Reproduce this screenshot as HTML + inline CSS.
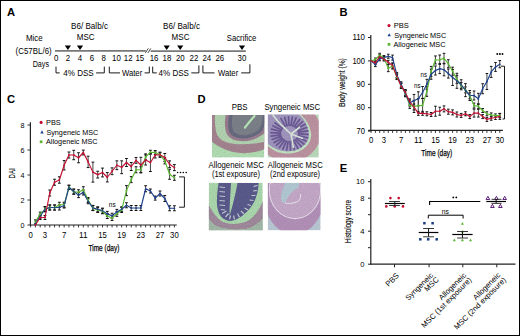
<!DOCTYPE html>
<html><head><meta charset="utf-8"><style>
html,body{margin:0;padding:0;background:#fff;}
svg{display:block;font-family:"Liberation Sans", sans-serif;}
</style></head><body>
<svg width="520" height="336" viewBox="0 0 520 336" font-family='"Liberation Sans", sans-serif'>
<rect x="0" y="0" width="520" height="336" fill="#fff"/>
<text x="7.00" y="15.80" font-size="11.65" textLength="8.09" lengthAdjust="spacingAndGlyphs" font-weight="bold">A</text>
<text x="339.50" y="15.60" font-size="11.65" textLength="8.09" lengthAdjust="spacingAndGlyphs" font-weight="bold">B</text>
<text x="7.00" y="103.20" font-size="11.65" textLength="8.09" lengthAdjust="spacingAndGlyphs" font-weight="bold">C</text>
<text x="197.60" y="103.30" font-size="11.65" textLength="8.09" lengthAdjust="spacingAndGlyphs" font-weight="bold">D</text>
<text x="339.80" y="172.20" font-size="11.65" textLength="7.47" lengthAdjust="spacingAndGlyphs" font-weight="bold">E</text>
<text x="26.00" y="40.80" font-size="8.69" textLength="16.70" lengthAdjust="spacingAndGlyphs">Mice</text>
<text x="15.60" y="53.80" font-size="8.69" textLength="36.10" lengthAdjust="spacingAndGlyphs">(C57BL/6)</text>
<text x="32.70" y="67.20" font-size="8.69" textLength="16.30" lengthAdjust="spacingAndGlyphs">Days</text>
<text x="71.00" y="29.00" font-size="8.69" textLength="37.00" lengthAdjust="spacingAndGlyphs">B6/ Balb/c</text>
<text x="76.80" y="40.30" font-size="8.69" textLength="17.80" lengthAdjust="spacingAndGlyphs">MSC</text>
<text x="163.00" y="29.00" font-size="8.69" textLength="37.00" lengthAdjust="spacingAndGlyphs">B6/ Balb/c</text>
<text x="171.60" y="40.30" font-size="8.69" textLength="17.90" lengthAdjust="spacingAndGlyphs">MSC</text>
<text x="226.80" y="41.00" font-size="8.69" textLength="29.60" lengthAdjust="spacingAndGlyphs">Sacrifice</text>
<line x1="55.00" y1="50.90" x2="145.80" y2="50.90" stroke="#787878" stroke-width="1.8"/>
<line x1="150.60" y1="51.20" x2="245.80" y2="51.20" stroke="#787878" stroke-width="1.8"/>
<path d="M145.4,52.9 L148.3,48.4 M147.9,52.9 L150.8,48.4" stroke="#333" stroke-width="0.9" fill="none"/>
<path d="M64.80,45.6 L71.00,45.6 L67.90,49.9 Z" fill="#000"/>
<path d="M76.90,45.6 L83.10,45.6 L80.00,49.9 Z" fill="#000"/>
<path d="M163.60,45.6 L169.80,45.6 L166.70,49.9 Z" fill="#000"/>
<path d="M177.10,45.6 L183.30,45.6 L180.20,49.9 Z" fill="#000"/>
<path d="M238.90,45.6 L245.10,45.6 L242.00,49.9 Z" fill="#000"/>
<text x="56.25" y="60.80" font-size="8.69" text-anchor="middle" textLength="4.39" lengthAdjust="spacingAndGlyphs">0</text>
<text x="67.90" y="60.80" font-size="8.69" text-anchor="middle" textLength="4.39" lengthAdjust="spacingAndGlyphs">2</text>
<text x="80.00" y="60.80" font-size="8.69" text-anchor="middle" textLength="4.39" lengthAdjust="spacingAndGlyphs">4</text>
<text x="92.00" y="60.80" font-size="8.69" text-anchor="middle" textLength="4.39" lengthAdjust="spacingAndGlyphs">6</text>
<text x="103.60" y="60.80" font-size="8.69" text-anchor="middle" textLength="4.39" lengthAdjust="spacingAndGlyphs">8</text>
<text x="116.50" y="60.80" font-size="8.69" text-anchor="middle" textLength="8.79" lengthAdjust="spacingAndGlyphs">10</text>
<text x="128.20" y="60.80" font-size="8.69" text-anchor="middle" textLength="8.79" lengthAdjust="spacingAndGlyphs">12</text>
<text x="139.80" y="60.80" font-size="8.69" text-anchor="middle" textLength="8.79" lengthAdjust="spacingAndGlyphs">15</text>
<text x="154.10" y="60.80" font-size="8.69" text-anchor="middle" textLength="8.79" lengthAdjust="spacingAndGlyphs">16</text>
<text x="166.90" y="60.80" font-size="8.69" text-anchor="middle" textLength="8.79" lengthAdjust="spacingAndGlyphs">18</text>
<text x="180.30" y="60.80" font-size="8.69" text-anchor="middle" textLength="8.79" lengthAdjust="spacingAndGlyphs">20</text>
<text x="193.90" y="60.80" font-size="8.69" text-anchor="middle" textLength="8.79" lengthAdjust="spacingAndGlyphs">22</text>
<text x="206.80" y="60.80" font-size="8.69" text-anchor="middle" textLength="8.79" lengthAdjust="spacingAndGlyphs">24</text>
<text x="219.80" y="60.80" font-size="8.69" text-anchor="middle" textLength="8.79" lengthAdjust="spacingAndGlyphs">26</text>
<text x="242.00" y="60.80" font-size="8.69" text-anchor="middle" textLength="8.79" lengthAdjust="spacingAndGlyphs">30</text>
<text x="63.30" y="75.60" font-size="8.69" textLength="30.40" lengthAdjust="spacingAndGlyphs">4% DSS</text>
<path d="M56.0,66.6 V72.9 H59.7" stroke="#000" stroke-width="0.9" fill="none"/>
<path d="M96.1,72.9 H104.3 V66.6" stroke="#000" stroke-width="0.9" fill="none"/>
<text x="122.00" y="76.00" font-size="8.69" textLength="20.20" lengthAdjust="spacingAndGlyphs">Water</text>
<path d="M109.3,66.6 V72.9 H120.0" stroke="#000" stroke-width="0.9" fill="none"/>
<path d="M144.6,72.9 H149.3 V66.6" stroke="#000" stroke-width="0.9" fill="none"/>
<text x="158.60" y="75.60" font-size="8.69" textLength="30.40" lengthAdjust="spacingAndGlyphs">4% DSS</text>
<path d="M152.7,66.6 V72.9 H156.8" stroke="#000" stroke-width="0.9" fill="none"/>
<path d="M191.3,72.9 H198.9 V65.4" stroke="#000" stroke-width="0.9" fill="none"/>
<text x="218.00" y="76.00" font-size="8.69" textLength="20.20" lengthAdjust="spacingAndGlyphs">Water</text>
<path d="M202.9,65.4 V72.9 H214.5" stroke="#000" stroke-width="0.9" fill="none"/>
<path d="M241.2,72.9 H249.9 V64.3" stroke="#000" stroke-width="0.9" fill="none"/>
<line x1="370.80" y1="35.00" x2="370.80" y2="131.10" stroke="#222" stroke-width="1.2"/>
<line x1="368.20" y1="130.40" x2="502.90" y2="130.40" stroke="#222" stroke-width="1.2"/>
<line x1="368.00" y1="37.50" x2="370.80" y2="37.50" stroke="#222" stroke-width="1.0"/>
<text x="365.00" y="40.10" font-size="8.14" text-anchor="end" textLength="12.60" lengthAdjust="spacingAndGlyphs">110</text>
<line x1="368.00" y1="60.90" x2="370.80" y2="60.90" stroke="#222" stroke-width="1.0"/>
<text x="365.00" y="63.50" font-size="8.14" text-anchor="end" textLength="12.60" lengthAdjust="spacingAndGlyphs">100</text>
<line x1="368.00" y1="84.30" x2="370.80" y2="84.30" stroke="#222" stroke-width="1.0"/>
<text x="365.00" y="86.90" font-size="8.14" text-anchor="end" textLength="8.40" lengthAdjust="spacingAndGlyphs">90</text>
<line x1="368.00" y1="107.70" x2="370.80" y2="107.70" stroke="#222" stroke-width="1.0"/>
<text x="365.00" y="110.30" font-size="8.14" text-anchor="end" textLength="8.40" lengthAdjust="spacingAndGlyphs">80</text>
<line x1="368.00" y1="131.10" x2="370.80" y2="131.10" stroke="#222" stroke-width="1.0"/>
<text x="365.00" y="133.70" font-size="8.14" text-anchor="end" textLength="8.40" lengthAdjust="spacingAndGlyphs">70</text>
<line x1="371.10" y1="130.40" x2="371.10" y2="132.90" stroke="#222" stroke-width="0.9"/>
<line x1="375.39" y1="130.40" x2="375.39" y2="132.90" stroke="#222" stroke-width="0.9"/>
<line x1="379.68" y1="130.40" x2="379.68" y2="132.90" stroke="#222" stroke-width="0.9"/>
<line x1="383.97" y1="130.40" x2="383.97" y2="132.90" stroke="#222" stroke-width="0.9"/>
<line x1="388.26" y1="130.40" x2="388.26" y2="132.90" stroke="#222" stroke-width="0.9"/>
<line x1="392.55" y1="130.40" x2="392.55" y2="132.90" stroke="#222" stroke-width="0.9"/>
<line x1="396.84" y1="130.40" x2="396.84" y2="132.90" stroke="#222" stroke-width="0.9"/>
<line x1="401.13" y1="130.40" x2="401.13" y2="132.90" stroke="#222" stroke-width="0.9"/>
<line x1="405.42" y1="130.40" x2="405.42" y2="132.90" stroke="#222" stroke-width="0.9"/>
<line x1="409.71" y1="130.40" x2="409.71" y2="132.90" stroke="#222" stroke-width="0.9"/>
<line x1="414.00" y1="130.40" x2="414.00" y2="132.90" stroke="#222" stroke-width="0.9"/>
<line x1="418.29" y1="130.40" x2="418.29" y2="132.90" stroke="#222" stroke-width="0.9"/>
<line x1="422.58" y1="130.40" x2="422.58" y2="132.90" stroke="#222" stroke-width="0.9"/>
<line x1="426.87" y1="130.40" x2="426.87" y2="132.90" stroke="#222" stroke-width="0.9"/>
<line x1="431.16" y1="130.40" x2="431.16" y2="132.90" stroke="#222" stroke-width="0.9"/>
<line x1="435.45" y1="130.40" x2="435.45" y2="132.90" stroke="#222" stroke-width="0.9"/>
<line x1="439.74" y1="130.40" x2="439.74" y2="132.90" stroke="#222" stroke-width="0.9"/>
<line x1="444.03" y1="130.40" x2="444.03" y2="132.90" stroke="#222" stroke-width="0.9"/>
<line x1="448.32" y1="130.40" x2="448.32" y2="132.90" stroke="#222" stroke-width="0.9"/>
<line x1="452.61" y1="130.40" x2="452.61" y2="132.90" stroke="#222" stroke-width="0.9"/>
<line x1="456.90" y1="130.40" x2="456.90" y2="132.90" stroke="#222" stroke-width="0.9"/>
<line x1="461.19" y1="130.40" x2="461.19" y2="132.90" stroke="#222" stroke-width="0.9"/>
<line x1="465.48" y1="130.40" x2="465.48" y2="132.90" stroke="#222" stroke-width="0.9"/>
<line x1="469.77" y1="130.40" x2="469.77" y2="132.90" stroke="#222" stroke-width="0.9"/>
<line x1="474.06" y1="130.40" x2="474.06" y2="132.90" stroke="#222" stroke-width="0.9"/>
<line x1="478.35" y1="130.40" x2="478.35" y2="132.90" stroke="#222" stroke-width="0.9"/>
<line x1="482.64" y1="130.40" x2="482.64" y2="132.90" stroke="#222" stroke-width="0.9"/>
<line x1="486.93" y1="130.40" x2="486.93" y2="132.90" stroke="#222" stroke-width="0.9"/>
<line x1="491.22" y1="130.40" x2="491.22" y2="132.90" stroke="#222" stroke-width="0.9"/>
<line x1="495.51" y1="130.40" x2="495.51" y2="132.90" stroke="#222" stroke-width="0.9"/>
<line x1="499.80" y1="130.40" x2="499.80" y2="132.90" stroke="#222" stroke-width="0.9"/>
<text x="371.10" y="143.00" font-size="8.47" text-anchor="middle" textLength="4.30" lengthAdjust="spacingAndGlyphs">0</text>
<text x="383.97" y="143.00" font-size="8.47" text-anchor="middle" textLength="4.30" lengthAdjust="spacingAndGlyphs">3</text>
<text x="401.13" y="143.00" font-size="8.47" text-anchor="middle" textLength="4.30" lengthAdjust="spacingAndGlyphs">7</text>
<text x="418.29" y="143.00" font-size="8.47" text-anchor="middle" textLength="8.60" lengthAdjust="spacingAndGlyphs">11</text>
<text x="435.45" y="143.00" font-size="8.47" text-anchor="middle" textLength="8.60" lengthAdjust="spacingAndGlyphs">15</text>
<text x="452.61" y="143.00" font-size="8.47" text-anchor="middle" textLength="8.60" lengthAdjust="spacingAndGlyphs">19</text>
<text x="469.77" y="143.00" font-size="8.47" text-anchor="middle" textLength="8.60" lengthAdjust="spacingAndGlyphs">23</text>
<text x="486.93" y="143.00" font-size="8.47" text-anchor="middle" textLength="8.60" lengthAdjust="spacingAndGlyphs">27</text>
<text x="499.80" y="143.00" font-size="8.47" text-anchor="middle" textLength="8.60" lengthAdjust="spacingAndGlyphs">30</text>
<text x="421.30" y="155.80" font-size="9.70" textLength="31.00" lengthAdjust="spacingAndGlyphs" stroke="#000" stroke-width="0.25">Time (day)</text>
<text transform="translate(344.7,82.6) rotate(-90)" font-size="9.7" text-anchor="middle" textLength="48.9" lengthAdjust="spacingAndGlyphs" stroke="#000" stroke-width="0.12">Body weight (%)</text>
<circle cx="389.00" cy="25.60" r="1.55" fill="#c20f30"/>
<text x="393.80" y="28.20" font-size="8.03" textLength="15.10" lengthAdjust="spacingAndGlyphs">PBS</text>
<path d="M389.20,33.14 L390.90,36.24 L387.50,36.24 Z" fill="#1d408c"/>
<text x="394.20" y="37.60" font-size="8.03" textLength="52.00" lengthAdjust="spacingAndGlyphs">Syngeneic MSC</text>
<rect x="387.65" y="43.05" width="2.70" height="2.70" fill="#5cb531"/>
<text x="393.50" y="47.00" font-size="8.03" textLength="52.00" lengthAdjust="spacingAndGlyphs">Allogeneic MSC</text>
<path d="M375.39,58.00 V61.00" stroke="#3a3a3a" stroke-width="0.9500000000000001" fill="none"/>
<path d="M374.09,58.00 H376.69 M374.09,61.00 H376.69" stroke="#111" stroke-width="1.0" fill="none"/>
<path d="M379.68,53.28 V57.28" stroke="#3a3a3a" stroke-width="0.9500000000000001" fill="none"/>
<path d="M378.38,53.28 H380.98 M378.38,57.28 H380.98" stroke="#111" stroke-width="1.0" fill="none"/>
<path d="M383.97,56.09 V60.09" stroke="#3a3a3a" stroke-width="0.9500000000000001" fill="none"/>
<path d="M382.67,56.09 H385.27 M382.67,60.09 H385.27" stroke="#111" stroke-width="1.0" fill="none"/>
<path d="M388.26,64.65 V71.65" stroke="#3a3a3a" stroke-width="0.9500000000000001" fill="none"/>
<path d="M386.96,64.65 H389.56 M386.96,71.65 H389.56" stroke="#111" stroke-width="1.0" fill="none"/>
<path d="M392.55,63.05 V69.05" stroke="#3a3a3a" stroke-width="0.9500000000000001" fill="none"/>
<path d="M391.25,63.05 H393.85 M391.25,69.05 H393.85" stroke="#111" stroke-width="1.0" fill="none"/>
<path d="M396.84,74.55 V79.55" stroke="#3a3a3a" stroke-width="0.9500000000000001" fill="none"/>
<path d="M395.54,74.55 H398.14 M395.54,79.55 H398.14" stroke="#111" stroke-width="1.0" fill="none"/>
<path d="M401.13,82.97 V87.97" stroke="#3a3a3a" stroke-width="0.9500000000000001" fill="none"/>
<path d="M399.83,82.97 H402.43 M399.83,87.97 H402.43" stroke="#111" stroke-width="1.0" fill="none"/>
<path d="M405.42,90.66 V96.66" stroke="#3a3a3a" stroke-width="0.9500000000000001" fill="none"/>
<path d="M404.12,90.66 H406.72 M404.12,96.66 H406.72" stroke="#111" stroke-width="1.0" fill="none"/>
<path d="M409.71,102.36 V108.36" stroke="#3a3a3a" stroke-width="0.9500000000000001" fill="none"/>
<path d="M408.41,102.36 H411.01 M408.41,108.36 H411.01" stroke="#111" stroke-width="1.0" fill="none"/>
<path d="M414.00,100.53 V112.53" stroke="#3a3a3a" stroke-width="0.9500000000000001" fill="none"/>
<path d="M412.70,100.53 H415.30 M412.70,112.53 H415.30" stroke="#111" stroke-width="1.0" fill="none"/>
<path d="M418.29,98.59 V112.59" stroke="#3a3a3a" stroke-width="0.9500000000000001" fill="none"/>
<path d="M416.99,98.59 H419.59 M416.99,112.59 H419.59" stroke="#111" stroke-width="1.0" fill="none"/>
<path d="M422.58,98.36 V112.36" stroke="#3a3a3a" stroke-width="0.9500000000000001" fill="none"/>
<path d="M421.28,98.36 H423.88 M421.28,112.36 H423.88" stroke="#111" stroke-width="1.0" fill="none"/>
<path d="M426.87,86.32 V96.32" stroke="#3a3a3a" stroke-width="0.9500000000000001" fill="none"/>
<path d="M425.57,86.32 H428.17 M425.57,96.32 H428.17" stroke="#111" stroke-width="1.0" fill="none"/>
<path d="M431.16,66.43 V76.43" stroke="#3a3a3a" stroke-width="0.9500000000000001" fill="none"/>
<path d="M429.86,66.43 H432.46 M429.86,76.43 H432.46" stroke="#111" stroke-width="1.0" fill="none"/>
<path d="M435.45,55.96 V63.96" stroke="#3a3a3a" stroke-width="0.9500000000000001" fill="none"/>
<path d="M434.15,55.96 H436.75 M434.15,63.96 H436.75" stroke="#111" stroke-width="1.0" fill="none"/>
<path d="M439.74,55.03 V64.43" stroke="#3a3a3a" stroke-width="0.9500000000000001" fill="none"/>
<path d="M438.44,55.03 H441.04 M438.44,64.43 H441.04" stroke="#111" stroke-width="1.0" fill="none"/>
<path d="M444.03,53.33 V63.33" stroke="#3a3a3a" stroke-width="0.9500000000000001" fill="none"/>
<path d="M442.73,53.33 H445.33 M442.73,63.33 H445.33" stroke="#111" stroke-width="1.0" fill="none"/>
<path d="M448.32,59.71 V67.71" stroke="#3a3a3a" stroke-width="0.9500000000000001" fill="none"/>
<path d="M447.02,59.71 H449.62 M447.02,67.71 H449.62" stroke="#111" stroke-width="1.0" fill="none"/>
<path d="M452.61,67.20 V75.20" stroke="#3a3a3a" stroke-width="0.9500000000000001" fill="none"/>
<path d="M451.31,67.20 H453.91 M451.31,75.20 H453.91" stroke="#111" stroke-width="1.0" fill="none"/>
<path d="M456.90,75.39 V83.39" stroke="#3a3a3a" stroke-width="0.9500000000000001" fill="none"/>
<path d="M455.60,75.39 H458.20 M455.60,83.39 H458.20" stroke="#111" stroke-width="1.0" fill="none"/>
<path d="M461.19,82.47 V88.47" stroke="#3a3a3a" stroke-width="0.9500000000000001" fill="none"/>
<path d="M459.89,82.47 H462.49 M459.89,88.47 H462.49" stroke="#111" stroke-width="1.0" fill="none"/>
<path d="M465.48,86.92 V92.92" stroke="#3a3a3a" stroke-width="0.9500000000000001" fill="none"/>
<path d="M464.18,86.92 H466.78 M464.18,92.92 H466.78" stroke="#111" stroke-width="1.0" fill="none"/>
<path d="M469.77,92.77 V98.77" stroke="#3a3a3a" stroke-width="0.9500000000000001" fill="none"/>
<path d="M468.47,92.77 H471.07 M468.47,98.77 H471.07" stroke="#111" stroke-width="1.0" fill="none"/>
<path d="M474.06,103.09 V108.09" stroke="#3a3a3a" stroke-width="0.9500000000000001" fill="none"/>
<path d="M472.76,103.09 H475.36 M472.76,108.09 H475.36" stroke="#111" stroke-width="1.0" fill="none"/>
<path d="M478.35,103.80 V108.80" stroke="#3a3a3a" stroke-width="0.9500000000000001" fill="none"/>
<path d="M477.05,103.80 H479.65 M477.05,108.80 H479.65" stroke="#111" stroke-width="1.0" fill="none"/>
<path d="M482.64,108.51 V112.51" stroke="#3a3a3a" stroke-width="0.9500000000000001" fill="none"/>
<path d="M481.34,108.51 H483.94 M481.34,112.51 H483.94" stroke="#111" stroke-width="1.0" fill="none"/>
<path d="M486.93,111.78 V115.78" stroke="#3a3a3a" stroke-width="0.9500000000000001" fill="none"/>
<path d="M485.63,111.78 H488.23 M485.63,115.78 H488.23" stroke="#111" stroke-width="1.0" fill="none"/>
<path d="M491.22,112.95 V116.95" stroke="#3a3a3a" stroke-width="0.9500000000000001" fill="none"/>
<path d="M489.92,112.95 H492.52 M489.92,116.95 H492.52" stroke="#111" stroke-width="1.0" fill="none"/>
<path d="M495.51,113.92 V116.92" stroke="#3a3a3a" stroke-width="0.9500000000000001" fill="none"/>
<path d="M494.21,113.92 H496.81 M494.21,116.92 H496.81" stroke="#111" stroke-width="1.0" fill="none"/>
<path d="M499.80,113.66 V117.66" stroke="#3a3a3a" stroke-width="0.9500000000000001" fill="none"/>
<path d="M498.50,113.66 H501.10 M498.50,117.66 H501.10" stroke="#111" stroke-width="1.0" fill="none"/>
<path d="M375.39,62.64 V66.64" stroke="#3a3a3a" stroke-width="0.9500000000000001" fill="none"/>
<path d="M374.09,62.64 H376.69 M374.09,66.64 H376.69" stroke="#111" stroke-width="1.0" fill="none"/>
<path d="M379.68,56.79 V60.79" stroke="#3a3a3a" stroke-width="0.9500000000000001" fill="none"/>
<path d="M378.38,56.79 H380.98 M378.38,60.79 H380.98" stroke="#111" stroke-width="1.0" fill="none"/>
<path d="M383.97,55.62 V59.62" stroke="#3a3a3a" stroke-width="0.9500000000000001" fill="none"/>
<path d="M382.67,55.62 H385.27 M382.67,59.62 H385.27" stroke="#111" stroke-width="1.0" fill="none"/>
<path d="M388.26,54.22 V58.22" stroke="#3a3a3a" stroke-width="0.9500000000000001" fill="none"/>
<path d="M386.96,54.22 H389.56 M386.96,58.22 H389.56" stroke="#111" stroke-width="1.0" fill="none"/>
<path d="M392.55,55.12 V60.12" stroke="#3a3a3a" stroke-width="0.9500000000000001" fill="none"/>
<path d="M391.25,55.12 H393.85 M391.25,60.12 H393.85" stroke="#111" stroke-width="1.0" fill="none"/>
<path d="M396.84,72.44 V77.44" stroke="#3a3a3a" stroke-width="0.9500000000000001" fill="none"/>
<path d="M395.54,72.44 H398.14 M395.54,77.44 H398.14" stroke="#111" stroke-width="1.0" fill="none"/>
<path d="M401.13,81.80 V86.80" stroke="#3a3a3a" stroke-width="0.9500000000000001" fill="none"/>
<path d="M399.83,81.80 H402.43 M399.83,86.80 H402.43" stroke="#111" stroke-width="1.0" fill="none"/>
<path d="M405.42,90.66 V96.66" stroke="#3a3a3a" stroke-width="0.9500000000000001" fill="none"/>
<path d="M404.12,90.66 H406.72 M404.12,96.66 H406.72" stroke="#111" stroke-width="1.0" fill="none"/>
<path d="M409.71,100.02 V106.02" stroke="#3a3a3a" stroke-width="0.9500000000000001" fill="none"/>
<path d="M408.41,100.02 H411.01 M408.41,106.02 H411.01" stroke="#111" stroke-width="1.0" fill="none"/>
<path d="M414.00,94.45 V106.45" stroke="#3a3a3a" stroke-width="0.9500000000000001" fill="none"/>
<path d="M412.70,94.45 H415.30 M412.70,106.45 H415.30" stroke="#111" stroke-width="1.0" fill="none"/>
<path d="M418.29,91.81 V105.81" stroke="#3a3a3a" stroke-width="0.9500000000000001" fill="none"/>
<path d="M416.99,91.81 H419.59 M416.99,105.81 H419.59" stroke="#111" stroke-width="1.0" fill="none"/>
<path d="M422.58,86.49 V98.49" stroke="#3a3a3a" stroke-width="0.9500000000000001" fill="none"/>
<path d="M421.28,86.49 H423.88 M421.28,98.49 H423.88" stroke="#111" stroke-width="1.0" fill="none"/>
<path d="M426.87,79.30 V89.30" stroke="#3a3a3a" stroke-width="0.9500000000000001" fill="none"/>
<path d="M425.57,79.30 H428.17 M425.57,89.30 H428.17" stroke="#111" stroke-width="1.0" fill="none"/>
<path d="M431.16,69.24 V79.24" stroke="#3a3a3a" stroke-width="0.9500000000000001" fill="none"/>
<path d="M429.86,69.24 H432.46 M429.86,79.24 H432.46" stroke="#111" stroke-width="1.0" fill="none"/>
<path d="M435.45,65.99 V74.99" stroke="#3a3a3a" stroke-width="0.9500000000000001" fill="none"/>
<path d="M434.15,65.99 H436.75 M434.15,74.99 H436.75" stroke="#111" stroke-width="1.0" fill="none"/>
<path d="M439.74,63.62 V73.62" stroke="#3a3a3a" stroke-width="0.9500000000000001" fill="none"/>
<path d="M438.44,63.62 H441.04 M438.44,73.62 H441.04" stroke="#111" stroke-width="1.0" fill="none"/>
<path d="M444.03,63.79 V75.79" stroke="#3a3a3a" stroke-width="0.9500000000000001" fill="none"/>
<path d="M442.73,63.79 H445.33 M442.73,75.79 H445.33" stroke="#111" stroke-width="1.0" fill="none"/>
<path d="M448.32,69.04 V78.04" stroke="#3a3a3a" stroke-width="0.9500000000000001" fill="none"/>
<path d="M447.02,69.04 H449.62 M447.02,78.04 H449.62" stroke="#111" stroke-width="1.0" fill="none"/>
<path d="M452.61,69.51 V85.51" stroke="#3a3a3a" stroke-width="0.9500000000000001" fill="none"/>
<path d="M451.31,69.51 H453.91 M451.31,85.51 H453.91" stroke="#111" stroke-width="1.0" fill="none"/>
<path d="M456.90,73.29 V88.29" stroke="#3a3a3a" stroke-width="0.9500000000000001" fill="none"/>
<path d="M455.60,73.29 H458.20 M455.60,88.29 H458.20" stroke="#111" stroke-width="1.0" fill="none"/>
<path d="M461.19,79.77 V89.77" stroke="#3a3a3a" stroke-width="0.9500000000000001" fill="none"/>
<path d="M459.89,79.77 H462.49 M459.89,89.77 H462.49" stroke="#111" stroke-width="1.0" fill="none"/>
<path d="M465.48,83.65 V96.65" stroke="#3a3a3a" stroke-width="0.9500000000000001" fill="none"/>
<path d="M464.18,83.65 H466.78 M464.18,96.65 H466.78" stroke="#111" stroke-width="1.0" fill="none"/>
<path d="M469.77,90.53 V100.53" stroke="#3a3a3a" stroke-width="0.9500000000000001" fill="none"/>
<path d="M468.47,90.53 H471.07 M468.47,100.53 H471.07" stroke="#111" stroke-width="1.0" fill="none"/>
<path d="M474.06,91.03 V100.03" stroke="#3a3a3a" stroke-width="0.9500000000000001" fill="none"/>
<path d="M472.76,91.03 H475.36 M472.76,100.03 H475.36" stroke="#111" stroke-width="1.0" fill="none"/>
<path d="M478.35,93.31 V104.31" stroke="#3a3a3a" stroke-width="0.9500000000000001" fill="none"/>
<path d="M477.05,93.31 H479.65 M477.05,104.31 H479.65" stroke="#111" stroke-width="1.0" fill="none"/>
<path d="M482.64,83.75 V93.75" stroke="#3a3a3a" stroke-width="0.9500000000000001" fill="none"/>
<path d="M481.34,83.75 H483.94 M481.34,93.75 H483.94" stroke="#111" stroke-width="1.0" fill="none"/>
<path d="M486.93,73.49 V89.49" stroke="#3a3a3a" stroke-width="0.9500000000000001" fill="none"/>
<path d="M485.63,73.49 H488.23 M485.63,89.49 H488.23" stroke="#111" stroke-width="1.0" fill="none"/>
<path d="M491.22,66.40 V77.40" stroke="#3a3a3a" stroke-width="0.9500000000000001" fill="none"/>
<path d="M489.92,66.40 H492.52 M489.92,77.40 H492.52" stroke="#111" stroke-width="1.0" fill="none"/>
<path d="M495.51,62.58 V71.38" stroke="#3a3a3a" stroke-width="0.9500000000000001" fill="none"/>
<path d="M494.21,62.58 H496.81 M494.21,71.38 H496.81" stroke="#111" stroke-width="1.0" fill="none"/>
<path d="M499.80,60.58 V67.78" stroke="#3a3a3a" stroke-width="0.9500000000000001" fill="none"/>
<path d="M498.50,60.58 H501.10 M498.50,67.78 H501.10" stroke="#111" stroke-width="1.0" fill="none"/>
<path d="M375.39,61.27 V64.27" stroke="#3a3a3a" stroke-width="0.9500000000000001" fill="none"/>
<path d="M374.09,61.27 H376.69 M374.09,64.27 H376.69" stroke="#111" stroke-width="1.0" fill="none"/>
<path d="M379.68,54.69 V58.69" stroke="#3a3a3a" stroke-width="0.9500000000000001" fill="none"/>
<path d="M378.38,54.69 H380.98 M378.38,58.69 H380.98" stroke="#111" stroke-width="1.0" fill="none"/>
<path d="M383.97,57.03 V61.03" stroke="#3a3a3a" stroke-width="0.9500000000000001" fill="none"/>
<path d="M382.67,57.03 H385.27 M382.67,61.03 H385.27" stroke="#111" stroke-width="1.0" fill="none"/>
<path d="M388.26,60.30 V64.30" stroke="#3a3a3a" stroke-width="0.9500000000000001" fill="none"/>
<path d="M386.96,60.30 H389.56 M386.96,64.30 H389.56" stroke="#111" stroke-width="1.0" fill="none"/>
<path d="M392.55,63.08 V68.08" stroke="#3a3a3a" stroke-width="0.9500000000000001" fill="none"/>
<path d="M391.25,63.08 H393.85 M391.25,68.08 H393.85" stroke="#111" stroke-width="1.0" fill="none"/>
<path d="M396.84,73.84 V78.84" stroke="#3a3a3a" stroke-width="0.9500000000000001" fill="none"/>
<path d="M395.54,73.84 H398.14 M395.54,78.84 H398.14" stroke="#111" stroke-width="1.0" fill="none"/>
<path d="M401.13,83.44 V88.44" stroke="#3a3a3a" stroke-width="0.9500000000000001" fill="none"/>
<path d="M399.83,83.44 H402.43 M399.83,88.44 H402.43" stroke="#111" stroke-width="1.0" fill="none"/>
<path d="M405.42,89.49 V95.49" stroke="#3a3a3a" stroke-width="0.9500000000000001" fill="none"/>
<path d="M404.12,89.49 H406.72 M404.12,95.49 H406.72" stroke="#111" stroke-width="1.0" fill="none"/>
<path d="M409.71,98.85 V104.85" stroke="#3a3a3a" stroke-width="0.9500000000000001" fill="none"/>
<path d="M408.41,98.85 H411.01 M408.41,104.85 H411.01" stroke="#111" stroke-width="1.0" fill="none"/>
<path d="M414.00,104.00 V110.00" stroke="#3a3a3a" stroke-width="0.9500000000000001" fill="none"/>
<path d="M412.70,104.00 H415.30 M412.70,110.00 H415.30" stroke="#111" stroke-width="1.0" fill="none"/>
<path d="M418.29,111.32 V115.32" stroke="#3a3a3a" stroke-width="0.9500000000000001" fill="none"/>
<path d="M416.99,111.32 H419.59 M416.99,115.32 H419.59" stroke="#111" stroke-width="1.0" fill="none"/>
<path d="M422.58,111.32 V115.32" stroke="#3a3a3a" stroke-width="0.9500000000000001" fill="none"/>
<path d="M421.28,111.32 H423.88 M421.28,115.32 H423.88" stroke="#111" stroke-width="1.0" fill="none"/>
<path d="M426.87,111.78 V115.78" stroke="#3a3a3a" stroke-width="0.9500000000000001" fill="none"/>
<path d="M425.57,111.78 H428.17 M425.57,115.78 H428.17" stroke="#111" stroke-width="1.0" fill="none"/>
<path d="M431.16,112.49 V116.49" stroke="#3a3a3a" stroke-width="0.9500000000000001" fill="none"/>
<path d="M429.86,112.49 H432.46 M429.86,116.49 H432.46" stroke="#111" stroke-width="1.0" fill="none"/>
<path d="M435.45,106.21 V116.21" stroke="#3a3a3a" stroke-width="0.9500000000000001" fill="none"/>
<path d="M434.15,106.21 H436.75 M434.15,116.21 H436.75" stroke="#111" stroke-width="1.0" fill="none"/>
<path d="M439.74,107.21 V115.21" stroke="#3a3a3a" stroke-width="0.9500000000000001" fill="none"/>
<path d="M438.44,107.21 H441.04 M438.44,115.21 H441.04" stroke="#111" stroke-width="1.0" fill="none"/>
<path d="M444.03,105.87 V111.87" stroke="#3a3a3a" stroke-width="0.9500000000000001" fill="none"/>
<path d="M442.73,105.87 H445.33 M442.73,111.87 H445.33" stroke="#111" stroke-width="1.0" fill="none"/>
<path d="M448.32,109.18 V114.18" stroke="#3a3a3a" stroke-width="0.9500000000000001" fill="none"/>
<path d="M447.02,109.18 H449.62 M447.02,114.18 H449.62" stroke="#111" stroke-width="1.0" fill="none"/>
<path d="M452.61,109.88 V114.88" stroke="#3a3a3a" stroke-width="0.9500000000000001" fill="none"/>
<path d="M451.31,109.88 H453.91 M451.31,114.88 H453.91" stroke="#111" stroke-width="1.0" fill="none"/>
<path d="M456.90,111.99 V116.99" stroke="#3a3a3a" stroke-width="0.9500000000000001" fill="none"/>
<path d="M455.60,111.99 H458.20 M455.60,116.99 H458.20" stroke="#111" stroke-width="1.0" fill="none"/>
<path d="M461.19,113.42 V117.42" stroke="#3a3a3a" stroke-width="0.9500000000000001" fill="none"/>
<path d="M459.89,113.42 H462.49 M459.89,117.42 H462.49" stroke="#111" stroke-width="1.0" fill="none"/>
<path d="M465.48,111.78 V115.78" stroke="#3a3a3a" stroke-width="0.9500000000000001" fill="none"/>
<path d="M464.18,111.78 H466.78 M464.18,115.78 H466.78" stroke="#111" stroke-width="1.0" fill="none"/>
<path d="M469.77,114.59 V118.59" stroke="#3a3a3a" stroke-width="0.9500000000000001" fill="none"/>
<path d="M468.47,114.59 H471.07 M468.47,118.59 H471.07" stroke="#111" stroke-width="1.0" fill="none"/>
<path d="M474.06,109.08 V117.08" stroke="#3a3a3a" stroke-width="0.9500000000000001" fill="none"/>
<path d="M472.76,109.08 H475.36 M472.76,117.08 H475.36" stroke="#111" stroke-width="1.0" fill="none"/>
<path d="M478.35,109.08 V117.08" stroke="#3a3a3a" stroke-width="0.9500000000000001" fill="none"/>
<path d="M477.05,109.08 H479.65 M477.05,117.08 H479.65" stroke="#111" stroke-width="1.0" fill="none"/>
<path d="M482.64,114.59 V118.59" stroke="#3a3a3a" stroke-width="0.9500000000000001" fill="none"/>
<path d="M481.34,114.59 H483.94 M481.34,118.59 H483.94" stroke="#111" stroke-width="1.0" fill="none"/>
<path d="M486.93,117.40 V121.40" stroke="#3a3a3a" stroke-width="0.9500000000000001" fill="none"/>
<path d="M485.63,117.40 H488.23 M485.63,121.40 H488.23" stroke="#111" stroke-width="1.0" fill="none"/>
<path d="M491.22,116.23 V120.23" stroke="#3a3a3a" stroke-width="0.9500000000000001" fill="none"/>
<path d="M489.92,116.23 H492.52 M489.92,120.23 H492.52" stroke="#111" stroke-width="1.0" fill="none"/>
<path d="M495.51,115.53 V119.53" stroke="#3a3a3a" stroke-width="0.9500000000000001" fill="none"/>
<path d="M494.21,115.53 H496.81 M494.21,119.53 H496.81" stroke="#111" stroke-width="1.0" fill="none"/>
<path d="M499.80,113.36 V119.36" stroke="#3a3a3a" stroke-width="0.9500000000000001" fill="none"/>
<path d="M498.50,113.36 H501.10 M498.50,119.36 H501.10" stroke="#111" stroke-width="1.0" fill="none"/>
<path d="M371.10,60.90 L375.39,59.50 L379.68,55.28 L383.97,58.09 L388.26,68.15 L392.55,66.05 L396.84,77.05 L401.13,85.47 L405.42,93.66 L409.71,105.36 L414.00,106.53 L418.29,105.59 L422.58,105.36 L426.87,91.32 L431.16,71.43 L435.45,59.96 L439.74,59.73 L444.03,58.33 L448.32,63.71 L452.61,71.20 L456.90,79.39 L461.19,85.47 L465.48,89.92 L469.77,95.77 L474.06,105.59 L478.35,106.30 L482.64,110.51 L486.93,113.78 L491.22,114.95 L495.51,115.42 L499.80,115.66" stroke="#5cb531" stroke-width="1.15" fill="none" stroke-linejoin="round"/>
<path d="M371.10,60.90 L375.39,64.64 L379.68,58.79 L383.97,57.62 L388.26,56.22 L392.55,57.62 L396.84,74.94 L401.13,84.30 L405.42,93.66 L409.71,103.02 L414.00,100.45 L418.29,98.81 L422.58,92.49 L426.87,84.30 L431.16,74.24 L435.45,70.49 L439.74,68.62 L444.03,69.79 L448.32,73.54 L452.61,77.51 L456.90,80.79 L461.19,84.77 L465.48,90.15 L469.77,95.53 L474.06,95.53 L478.35,98.81 L482.64,88.75 L486.93,81.49 L491.22,71.90 L495.51,66.98 L499.80,64.18" stroke="#1d408c" stroke-width="1.15" fill="none" stroke-linejoin="round"/>
<path d="M371.10,60.90 L375.39,62.77 L379.68,56.69 L383.97,59.03 L388.26,62.30 L392.55,65.58 L396.84,76.34 L401.13,85.94 L405.42,92.49 L409.71,101.85 L414.00,107.00 L418.29,113.32 L422.58,113.32 L426.87,113.78 L431.16,114.49 L435.45,111.21 L439.74,111.21 L444.03,108.87 L448.32,111.68 L452.61,112.38 L456.90,114.49 L461.19,115.42 L465.48,113.78 L469.77,116.59 L474.06,113.08 L478.35,113.08 L482.64,116.59 L486.93,119.40 L491.22,118.23 L495.51,117.53 L499.80,116.36" stroke="#c20f30" stroke-width="1.15" fill="none" stroke-linejoin="round"/>
<rect x="370.20" y="60.00" width="1.80" height="1.80" fill="#5cb531"/>
<rect x="374.49" y="58.60" width="1.80" height="1.80" fill="#5cb531"/>
<rect x="378.78" y="54.38" width="1.80" height="1.80" fill="#5cb531"/>
<rect x="383.07" y="57.19" width="1.80" height="1.80" fill="#5cb531"/>
<rect x="387.36" y="67.25" width="1.80" height="1.80" fill="#5cb531"/>
<rect x="391.65" y="65.15" width="1.80" height="1.80" fill="#5cb531"/>
<rect x="395.94" y="76.15" width="1.80" height="1.80" fill="#5cb531"/>
<rect x="400.23" y="84.57" width="1.80" height="1.80" fill="#5cb531"/>
<rect x="404.52" y="92.76" width="1.80" height="1.80" fill="#5cb531"/>
<rect x="408.81" y="104.46" width="1.80" height="1.80" fill="#5cb531"/>
<rect x="413.10" y="105.63" width="1.80" height="1.80" fill="#5cb531"/>
<rect x="417.39" y="104.69" width="1.80" height="1.80" fill="#5cb531"/>
<rect x="421.68" y="104.46" width="1.80" height="1.80" fill="#5cb531"/>
<rect x="425.97" y="90.42" width="1.80" height="1.80" fill="#5cb531"/>
<rect x="430.26" y="70.53" width="1.80" height="1.80" fill="#5cb531"/>
<rect x="434.55" y="59.06" width="1.80" height="1.80" fill="#5cb531"/>
<rect x="438.84" y="58.83" width="1.80" height="1.80" fill="#5cb531"/>
<rect x="443.13" y="57.43" width="1.80" height="1.80" fill="#5cb531"/>
<rect x="447.42" y="62.81" width="1.80" height="1.80" fill="#5cb531"/>
<rect x="451.71" y="70.30" width="1.80" height="1.80" fill="#5cb531"/>
<rect x="456.00" y="78.49" width="1.80" height="1.80" fill="#5cb531"/>
<rect x="460.29" y="84.57" width="1.80" height="1.80" fill="#5cb531"/>
<rect x="464.58" y="89.02" width="1.80" height="1.80" fill="#5cb531"/>
<rect x="468.87" y="94.87" width="1.80" height="1.80" fill="#5cb531"/>
<rect x="473.16" y="104.69" width="1.80" height="1.80" fill="#5cb531"/>
<rect x="477.45" y="105.40" width="1.80" height="1.80" fill="#5cb531"/>
<rect x="481.74" y="109.61" width="1.80" height="1.80" fill="#5cb531"/>
<rect x="486.03" y="112.88" width="1.80" height="1.80" fill="#5cb531"/>
<rect x="490.32" y="114.05" width="1.80" height="1.80" fill="#5cb531"/>
<rect x="494.61" y="114.52" width="1.80" height="1.80" fill="#5cb531"/>
<rect x="498.90" y="114.76" width="1.80" height="1.80" fill="#5cb531"/>
<path d="M371.10,59.70 L372.20,61.70 L370.00,61.70 Z" fill="#1d408c"/>
<path d="M375.39,63.44 L376.49,65.44 L374.29,65.44 Z" fill="#1d408c"/>
<path d="M379.68,57.59 L380.78,59.59 L378.58,59.59 Z" fill="#1d408c"/>
<path d="M383.97,56.42 L385.07,58.42 L382.87,58.42 Z" fill="#1d408c"/>
<path d="M388.26,55.02 L389.36,57.02 L387.16,57.02 Z" fill="#1d408c"/>
<path d="M392.55,56.42 L393.65,58.42 L391.45,58.42 Z" fill="#1d408c"/>
<path d="M396.84,73.74 L397.94,75.74 L395.74,75.74 Z" fill="#1d408c"/>
<path d="M401.13,83.10 L402.23,85.10 L400.03,85.10 Z" fill="#1d408c"/>
<path d="M405.42,92.46 L406.52,94.46 L404.32,94.46 Z" fill="#1d408c"/>
<path d="M409.71,101.82 L410.81,103.82 L408.61,103.82 Z" fill="#1d408c"/>
<path d="M414.00,99.25 L415.10,101.25 L412.90,101.25 Z" fill="#1d408c"/>
<path d="M418.29,97.61 L419.39,99.61 L417.19,99.61 Z" fill="#1d408c"/>
<path d="M422.58,91.29 L423.68,93.29 L421.48,93.29 Z" fill="#1d408c"/>
<path d="M426.87,83.10 L427.97,85.10 L425.77,85.10 Z" fill="#1d408c"/>
<path d="M431.16,73.04 L432.26,75.04 L430.06,75.04 Z" fill="#1d408c"/>
<path d="M435.45,69.29 L436.55,71.29 L434.35,71.29 Z" fill="#1d408c"/>
<path d="M439.74,67.42 L440.84,69.42 L438.64,69.42 Z" fill="#1d408c"/>
<path d="M444.03,68.59 L445.13,70.59 L442.93,70.59 Z" fill="#1d408c"/>
<path d="M448.32,72.34 L449.42,74.34 L447.22,74.34 Z" fill="#1d408c"/>
<path d="M452.61,76.31 L453.71,78.31 L451.51,78.31 Z" fill="#1d408c"/>
<path d="M456.90,79.59 L458.00,81.59 L455.80,81.59 Z" fill="#1d408c"/>
<path d="M461.19,83.57 L462.29,85.57 L460.09,85.57 Z" fill="#1d408c"/>
<path d="M465.48,88.95 L466.58,90.95 L464.38,90.95 Z" fill="#1d408c"/>
<path d="M469.77,94.33 L470.87,96.33 L468.67,96.33 Z" fill="#1d408c"/>
<path d="M474.06,94.33 L475.16,96.33 L472.96,96.33 Z" fill="#1d408c"/>
<path d="M478.35,97.61 L479.45,99.61 L477.25,99.61 Z" fill="#1d408c"/>
<path d="M482.64,87.55 L483.74,89.55 L481.54,89.55 Z" fill="#1d408c"/>
<path d="M486.93,80.29 L488.03,82.29 L485.83,82.29 Z" fill="#1d408c"/>
<path d="M491.22,70.70 L492.32,72.70 L490.12,72.70 Z" fill="#1d408c"/>
<path d="M495.51,65.78 L496.61,67.78 L494.41,67.78 Z" fill="#1d408c"/>
<path d="M499.80,62.98 L500.90,64.98 L498.70,64.98 Z" fill="#1d408c"/>
<circle cx="371.10" cy="60.90" r="0.90" fill="#c20f30"/>
<circle cx="375.39" cy="62.77" r="0.90" fill="#c20f30"/>
<circle cx="379.68" cy="56.69" r="0.90" fill="#c20f30"/>
<circle cx="383.97" cy="59.03" r="0.90" fill="#c20f30"/>
<circle cx="388.26" cy="62.30" r="0.90" fill="#c20f30"/>
<circle cx="392.55" cy="65.58" r="0.90" fill="#c20f30"/>
<circle cx="396.84" cy="76.34" r="0.90" fill="#c20f30"/>
<circle cx="401.13" cy="85.94" r="0.90" fill="#c20f30"/>
<circle cx="405.42" cy="92.49" r="0.90" fill="#c20f30"/>
<circle cx="409.71" cy="101.85" r="0.90" fill="#c20f30"/>
<circle cx="414.00" cy="107.00" r="0.90" fill="#c20f30"/>
<circle cx="418.29" cy="113.32" r="0.90" fill="#c20f30"/>
<circle cx="422.58" cy="113.32" r="0.90" fill="#c20f30"/>
<circle cx="426.87" cy="113.78" r="0.90" fill="#c20f30"/>
<circle cx="431.16" cy="114.49" r="0.90" fill="#c20f30"/>
<circle cx="435.45" cy="111.21" r="0.90" fill="#c20f30"/>
<circle cx="439.74" cy="111.21" r="0.90" fill="#c20f30"/>
<circle cx="444.03" cy="108.87" r="0.90" fill="#c20f30"/>
<circle cx="448.32" cy="111.68" r="0.90" fill="#c20f30"/>
<circle cx="452.61" cy="112.38" r="0.90" fill="#c20f30"/>
<circle cx="456.90" cy="114.49" r="0.90" fill="#c20f30"/>
<circle cx="461.19" cy="115.42" r="0.90" fill="#c20f30"/>
<circle cx="465.48" cy="113.78" r="0.90" fill="#c20f30"/>
<circle cx="469.77" cy="116.59" r="0.90" fill="#c20f30"/>
<circle cx="474.06" cy="113.08" r="0.90" fill="#c20f30"/>
<circle cx="478.35" cy="113.08" r="0.90" fill="#c20f30"/>
<circle cx="482.64" cy="116.59" r="0.90" fill="#c20f30"/>
<circle cx="486.93" cy="119.40" r="0.90" fill="#c20f30"/>
<circle cx="491.22" cy="118.23" r="0.90" fill="#c20f30"/>
<circle cx="495.51" cy="117.53" r="0.90" fill="#c20f30"/>
<circle cx="499.80" cy="116.36" r="0.90" fill="#c20f30"/>
<text x="420.60" y="77.20" font-size="7.70" textLength="6.50" lengthAdjust="spacingAndGlyphs">ns</text>
<text x="414.00" y="87.80" font-size="7.70" textLength="6.50" lengthAdjust="spacingAndGlyphs">ns</text>
<circle cx="497.30" cy="54.00" r="0.95" fill="#000"/>
<circle cx="499.90" cy="54.00" r="0.95" fill="#000"/>
<circle cx="502.50" cy="54.00" r="0.95" fill="#000"/>
<path d="M501,66.2 H504.5 V119 H502.5" stroke="#000" stroke-width="0.9" fill="none"/>
<line x1="30.40" y1="122.30" x2="30.40" y2="225.60" stroke="#222" stroke-width="1.2"/>
<line x1="29.90" y1="225.00" x2="176.80" y2="225.00" stroke="#222" stroke-width="1.2"/>
<line x1="27.40" y1="225.00" x2="30.40" y2="225.00" stroke="#222" stroke-width="0.9"/>
<text x="24.40" y="227.50" font-size="7.92" text-anchor="end" textLength="4.00" lengthAdjust="spacingAndGlyphs">0</text>
<line x1="27.40" y1="200.00" x2="30.40" y2="200.00" stroke="#222" stroke-width="0.9"/>
<text x="24.40" y="202.50" font-size="7.92" text-anchor="end" textLength="4.00" lengthAdjust="spacingAndGlyphs">2</text>
<line x1="27.40" y1="175.00" x2="30.40" y2="175.00" stroke="#222" stroke-width="0.9"/>
<text x="24.40" y="177.50" font-size="7.92" text-anchor="end" textLength="4.00" lengthAdjust="spacingAndGlyphs">4</text>
<line x1="27.40" y1="150.00" x2="30.40" y2="150.00" stroke="#222" stroke-width="0.9"/>
<text x="24.40" y="152.50" font-size="7.92" text-anchor="end" textLength="4.00" lengthAdjust="spacingAndGlyphs">6</text>
<line x1="27.40" y1="125.00" x2="30.40" y2="125.00" stroke="#222" stroke-width="0.9"/>
<text x="24.40" y="127.50" font-size="7.92" text-anchor="end" textLength="4.00" lengthAdjust="spacingAndGlyphs">8</text>
<line x1="30.60" y1="225.00" x2="30.60" y2="227.40" stroke="#222" stroke-width="0.9"/>
<line x1="35.39" y1="225.00" x2="35.39" y2="227.40" stroke="#222" stroke-width="0.9"/>
<line x1="40.19" y1="225.00" x2="40.19" y2="227.40" stroke="#222" stroke-width="0.9"/>
<line x1="44.98" y1="225.00" x2="44.98" y2="227.40" stroke="#222" stroke-width="0.9"/>
<line x1="49.77" y1="225.00" x2="49.77" y2="227.40" stroke="#222" stroke-width="0.9"/>
<line x1="54.56" y1="225.00" x2="54.56" y2="227.40" stroke="#222" stroke-width="0.9"/>
<line x1="59.36" y1="225.00" x2="59.36" y2="227.40" stroke="#222" stroke-width="0.9"/>
<line x1="64.15" y1="225.00" x2="64.15" y2="227.40" stroke="#222" stroke-width="0.9"/>
<line x1="68.94" y1="225.00" x2="68.94" y2="227.40" stroke="#222" stroke-width="0.9"/>
<line x1="73.74" y1="225.00" x2="73.74" y2="227.40" stroke="#222" stroke-width="0.9"/>
<line x1="78.53" y1="225.00" x2="78.53" y2="227.40" stroke="#222" stroke-width="0.9"/>
<line x1="83.32" y1="225.00" x2="83.32" y2="227.40" stroke="#222" stroke-width="0.9"/>
<line x1="88.12" y1="225.00" x2="88.12" y2="227.40" stroke="#222" stroke-width="0.9"/>
<line x1="92.91" y1="225.00" x2="92.91" y2="227.40" stroke="#222" stroke-width="0.9"/>
<line x1="97.70" y1="225.00" x2="97.70" y2="227.40" stroke="#222" stroke-width="0.9"/>
<line x1="102.50" y1="225.00" x2="102.50" y2="227.40" stroke="#222" stroke-width="0.9"/>
<line x1="107.29" y1="225.00" x2="107.29" y2="227.40" stroke="#222" stroke-width="0.9"/>
<line x1="112.08" y1="225.00" x2="112.08" y2="227.40" stroke="#222" stroke-width="0.9"/>
<line x1="116.87" y1="225.00" x2="116.87" y2="227.40" stroke="#222" stroke-width="0.9"/>
<line x1="121.67" y1="225.00" x2="121.67" y2="227.40" stroke="#222" stroke-width="0.9"/>
<line x1="126.46" y1="225.00" x2="126.46" y2="227.40" stroke="#222" stroke-width="0.9"/>
<line x1="131.25" y1="225.00" x2="131.25" y2="227.40" stroke="#222" stroke-width="0.9"/>
<line x1="136.05" y1="225.00" x2="136.05" y2="227.40" stroke="#222" stroke-width="0.9"/>
<line x1="140.84" y1="225.00" x2="140.84" y2="227.40" stroke="#222" stroke-width="0.9"/>
<line x1="145.63" y1="225.00" x2="145.63" y2="227.40" stroke="#222" stroke-width="0.9"/>
<line x1="150.43" y1="225.00" x2="150.43" y2="227.40" stroke="#222" stroke-width="0.9"/>
<line x1="155.22" y1="225.00" x2="155.22" y2="227.40" stroke="#222" stroke-width="0.9"/>
<line x1="160.01" y1="225.00" x2="160.01" y2="227.40" stroke="#222" stroke-width="0.9"/>
<line x1="164.80" y1="225.00" x2="164.80" y2="227.40" stroke="#222" stroke-width="0.9"/>
<line x1="169.60" y1="225.00" x2="169.60" y2="227.40" stroke="#222" stroke-width="0.9"/>
<line x1="174.39" y1="225.00" x2="174.39" y2="227.40" stroke="#222" stroke-width="0.9"/>
<text x="30.60" y="237.80" font-size="8.36" text-anchor="middle" textLength="4.30" lengthAdjust="spacingAndGlyphs">0</text>
<text x="44.98" y="237.80" font-size="8.36" text-anchor="middle" textLength="4.30" lengthAdjust="spacingAndGlyphs">3</text>
<text x="64.15" y="237.80" font-size="8.36" text-anchor="middle" textLength="4.30" lengthAdjust="spacingAndGlyphs">7</text>
<text x="83.32" y="237.80" font-size="8.36" text-anchor="middle" textLength="8.60" lengthAdjust="spacingAndGlyphs">11</text>
<text x="102.50" y="237.80" font-size="8.36" text-anchor="middle" textLength="8.60" lengthAdjust="spacingAndGlyphs">15</text>
<text x="121.67" y="237.80" font-size="8.36" text-anchor="middle" textLength="8.60" lengthAdjust="spacingAndGlyphs">19</text>
<text x="140.84" y="237.80" font-size="8.36" text-anchor="middle" textLength="8.60" lengthAdjust="spacingAndGlyphs">23</text>
<text x="160.01" y="237.80" font-size="8.36" text-anchor="middle" textLength="8.60" lengthAdjust="spacingAndGlyphs">27</text>
<text x="174.39" y="237.80" font-size="8.36" text-anchor="middle" textLength="8.60" lengthAdjust="spacingAndGlyphs">30</text>
<text x="88.50" y="251.00" font-size="9.70" textLength="30.90" lengthAdjust="spacingAndGlyphs" stroke="#000" stroke-width="0.25">Time (day)</text>
<text transform="translate(14.5,173.4) rotate(-90)" font-size="9.4" text-anchor="middle" textLength="10.0" lengthAdjust="spacingAndGlyphs" stroke="#000" stroke-width="0.15">DAI</text>
<circle cx="41.10" cy="122.40" r="1.55" fill="#c20f30"/>
<text x="46.00" y="125.10" font-size="8.03" textLength="14.80" lengthAdjust="spacingAndGlyphs">PBS</text>
<path d="M42.00,130.34 L43.70,133.44 L40.30,133.44 Z" fill="#1d408c"/>
<text x="46.40" y="134.90" font-size="8.03" textLength="51.90" lengthAdjust="spacingAndGlyphs">Syngeneic MSC</text>
<rect x="39.75" y="140.45" width="2.70" height="2.70" fill="#5cb531"/>
<text x="46.00" y="144.40" font-size="8.03" textLength="51.60" lengthAdjust="spacingAndGlyphs">Allogeneic MSC</text>
<path d="M35.39,219.88 V223.88" stroke="#3a3a3a" stroke-width="0.9500000000000001" fill="none"/>
<path d="M33.99,219.88 H36.79 M33.99,223.88 H36.79" stroke="#111" stroke-width="1.0" fill="none"/>
<path d="M40.19,212.12 V216.12" stroke="#3a3a3a" stroke-width="0.9500000000000001" fill="none"/>
<path d="M38.79,212.12 H41.59 M38.79,216.12 H41.59" stroke="#111" stroke-width="1.0" fill="none"/>
<path d="M44.98,206.62 V211.62" stroke="#3a3a3a" stroke-width="0.9500000000000001" fill="none"/>
<path d="M43.58,206.62 H46.38 M43.58,211.62 H46.38" stroke="#111" stroke-width="1.0" fill="none"/>
<path d="M49.77,205.00 V210.00" stroke="#3a3a3a" stroke-width="0.9500000000000001" fill="none"/>
<path d="M48.37,205.00 H51.17 M48.37,210.00 H51.17" stroke="#111" stroke-width="1.0" fill="none"/>
<path d="M54.56,205.00 V210.00" stroke="#3a3a3a" stroke-width="0.9500000000000001" fill="none"/>
<path d="M53.16,205.00 H55.96 M53.16,210.00 H55.96" stroke="#111" stroke-width="1.0" fill="none"/>
<path d="M59.36,202.25 V207.25" stroke="#3a3a3a" stroke-width="0.9500000000000001" fill="none"/>
<path d="M57.96,202.25 H60.76 M57.96,207.25 H60.76" stroke="#111" stroke-width="1.0" fill="none"/>
<path d="M64.15,202.25 V207.25" stroke="#3a3a3a" stroke-width="0.9500000000000001" fill="none"/>
<path d="M62.75,202.25 H65.55 M62.75,207.25 H65.55" stroke="#111" stroke-width="1.0" fill="none"/>
<path d="M68.94,185.25 V189.25" stroke="#3a3a3a" stroke-width="0.9500000000000001" fill="none"/>
<path d="M67.54,185.25 H70.34 M67.54,189.25 H70.34" stroke="#111" stroke-width="1.0" fill="none"/>
<path d="M73.74,189.25 V194.25" stroke="#3a3a3a" stroke-width="0.9500000000000001" fill="none"/>
<path d="M72.34,189.25 H75.14 M72.34,194.25 H75.14" stroke="#111" stroke-width="1.0" fill="none"/>
<path d="M78.53,189.75 V194.75" stroke="#3a3a3a" stroke-width="0.9500000000000001" fill="none"/>
<path d="M77.13,189.75 H79.93 M77.13,194.75 H79.93" stroke="#111" stroke-width="1.0" fill="none"/>
<path d="M83.32,186.75 V192.75" stroke="#3a3a3a" stroke-width="0.9500000000000001" fill="none"/>
<path d="M81.92,186.75 H84.72 M81.92,192.75 H84.72" stroke="#111" stroke-width="1.0" fill="none"/>
<path d="M88.12,197.50 V202.50" stroke="#3a3a3a" stroke-width="0.9500000000000001" fill="none"/>
<path d="M86.72,197.50 H89.52 M86.72,202.50 H89.52" stroke="#111" stroke-width="1.0" fill="none"/>
<path d="M92.91,205.62 V210.62" stroke="#3a3a3a" stroke-width="0.9500000000000001" fill="none"/>
<path d="M91.51,205.62 H94.31 M91.51,210.62 H94.31" stroke="#111" stroke-width="1.0" fill="none"/>
<path d="M97.70,207.50 V212.50" stroke="#3a3a3a" stroke-width="0.9500000000000001" fill="none"/>
<path d="M96.30,207.50 H99.10 M96.30,212.50 H99.10" stroke="#111" stroke-width="1.0" fill="none"/>
<path d="M102.50,208.75 V213.75" stroke="#3a3a3a" stroke-width="0.9500000000000001" fill="none"/>
<path d="M101.09,208.75 H103.90 M101.09,213.75 H103.90" stroke="#111" stroke-width="1.0" fill="none"/>
<path d="M107.29,213.50 V218.50" stroke="#3a3a3a" stroke-width="0.9500000000000001" fill="none"/>
<path d="M105.89,213.50 H108.69 M105.89,218.50 H108.69" stroke="#111" stroke-width="1.0" fill="none"/>
<path d="M112.08,215.50 V220.50" stroke="#3a3a3a" stroke-width="0.9500000000000001" fill="none"/>
<path d="M110.68,215.50 H113.48 M110.68,220.50 H113.48" stroke="#111" stroke-width="1.0" fill="none"/>
<path d="M116.87,211.38 V216.38" stroke="#3a3a3a" stroke-width="0.9500000000000001" fill="none"/>
<path d="M115.47,211.38 H118.27 M115.47,216.38 H118.27" stroke="#111" stroke-width="1.0" fill="none"/>
<path d="M121.67,207.50 V212.50" stroke="#3a3a3a" stroke-width="0.9500000000000001" fill="none"/>
<path d="M120.27,207.50 H123.07 M120.27,212.50 H123.07" stroke="#111" stroke-width="1.0" fill="none"/>
<path d="M126.46,185.62 V195.62" stroke="#3a3a3a" stroke-width="0.9500000000000001" fill="none"/>
<path d="M125.06,185.62 H127.86 M125.06,195.62 H127.86" stroke="#111" stroke-width="1.0" fill="none"/>
<path d="M131.25,176.62 V182.62" stroke="#3a3a3a" stroke-width="0.9500000000000001" fill="none"/>
<path d="M129.85,176.62 H132.65 M129.85,182.62 H132.65" stroke="#111" stroke-width="1.0" fill="none"/>
<path d="M136.05,166.75 V172.75" stroke="#3a3a3a" stroke-width="0.9500000000000001" fill="none"/>
<path d="M134.65,166.75 H137.45 M134.65,172.75 H137.45" stroke="#111" stroke-width="1.0" fill="none"/>
<path d="M140.84,166.75 V172.75" stroke="#3a3a3a" stroke-width="0.9500000000000001" fill="none"/>
<path d="M139.44,166.75 H142.24 M139.44,172.75 H142.24" stroke="#111" stroke-width="1.0" fill="none"/>
<path d="M145.63,153.88 V159.88" stroke="#3a3a3a" stroke-width="0.9500000000000001" fill="none"/>
<path d="M144.23,153.88 H147.03 M144.23,159.88 H147.03" stroke="#111" stroke-width="1.0" fill="none"/>
<path d="M150.43,150.25 V154.25" stroke="#3a3a3a" stroke-width="0.9500000000000001" fill="none"/>
<path d="M149.03,150.25 H151.83 M149.03,154.25 H151.83" stroke="#111" stroke-width="1.0" fill="none"/>
<path d="M155.22,150.50 V154.50" stroke="#3a3a3a" stroke-width="0.9500000000000001" fill="none"/>
<path d="M153.82,150.50 H156.62 M153.82,154.50 H156.62" stroke="#111" stroke-width="1.0" fill="none"/>
<path d="M160.01,152.75 V156.75" stroke="#3a3a3a" stroke-width="0.9500000000000001" fill="none"/>
<path d="M158.61,152.75 H161.41 M158.61,156.75 H161.41" stroke="#111" stroke-width="1.0" fill="none"/>
<path d="M164.80,157.88 V163.88" stroke="#3a3a3a" stroke-width="0.9500000000000001" fill="none"/>
<path d="M163.40,157.88 H166.20 M163.40,163.88 H166.20" stroke="#111" stroke-width="1.0" fill="none"/>
<path d="M169.60,169.25 V179.25" stroke="#3a3a3a" stroke-width="0.9500000000000001" fill="none"/>
<path d="M168.20,169.25 H171.00 M168.20,179.25 H171.00" stroke="#111" stroke-width="1.0" fill="none"/>
<path d="M174.39,175.25 V180.25" stroke="#3a3a3a" stroke-width="0.9500000000000001" fill="none"/>
<path d="M172.99,175.25 H175.79 M172.99,180.25 H175.79" stroke="#111" stroke-width="1.0" fill="none"/>
<path d="M40.19,214.25 V218.25" stroke="#3a3a3a" stroke-width="0.9500000000000001" fill="none"/>
<path d="M38.79,214.25 H41.59 M38.79,218.25 H41.59" stroke="#111" stroke-width="1.0" fill="none"/>
<path d="M44.98,206.75 V211.75" stroke="#3a3a3a" stroke-width="0.9500000000000001" fill="none"/>
<path d="M43.58,206.75 H46.38 M43.58,211.75 H46.38" stroke="#111" stroke-width="1.0" fill="none"/>
<path d="M49.77,205.00 V210.00" stroke="#3a3a3a" stroke-width="0.9500000000000001" fill="none"/>
<path d="M48.37,205.00 H51.17 M48.37,210.00 H51.17" stroke="#111" stroke-width="1.0" fill="none"/>
<path d="M54.56,205.00 V210.00" stroke="#3a3a3a" stroke-width="0.9500000000000001" fill="none"/>
<path d="M53.16,205.00 H55.96 M53.16,210.00 H55.96" stroke="#111" stroke-width="1.0" fill="none"/>
<path d="M59.36,205.00 V210.00" stroke="#3a3a3a" stroke-width="0.9500000000000001" fill="none"/>
<path d="M57.96,205.00 H60.76 M57.96,210.00 H60.76" stroke="#111" stroke-width="1.0" fill="none"/>
<path d="M64.15,203.00 V208.00" stroke="#3a3a3a" stroke-width="0.9500000000000001" fill="none"/>
<path d="M62.75,203.00 H65.55 M62.75,208.00 H65.55" stroke="#111" stroke-width="1.0" fill="none"/>
<path d="M68.94,185.25 V189.25" stroke="#3a3a3a" stroke-width="0.9500000000000001" fill="none"/>
<path d="M67.54,185.25 H70.34 M67.54,189.25 H70.34" stroke="#111" stroke-width="1.0" fill="none"/>
<path d="M73.74,189.00 V194.00" stroke="#3a3a3a" stroke-width="0.9500000000000001" fill="none"/>
<path d="M72.34,189.00 H75.14 M72.34,194.00 H75.14" stroke="#111" stroke-width="1.0" fill="none"/>
<path d="M78.53,192.62 V197.62" stroke="#3a3a3a" stroke-width="0.9500000000000001" fill="none"/>
<path d="M77.13,192.62 H79.93 M77.13,197.62 H79.93" stroke="#111" stroke-width="1.0" fill="none"/>
<path d="M83.32,190.00 V195.00" stroke="#3a3a3a" stroke-width="0.9500000000000001" fill="none"/>
<path d="M81.92,190.00 H84.72 M81.92,195.00 H84.72" stroke="#111" stroke-width="1.0" fill="none"/>
<path d="M88.12,198.75 V203.75" stroke="#3a3a3a" stroke-width="0.9500000000000001" fill="none"/>
<path d="M86.72,198.75 H89.52 M86.72,203.75 H89.52" stroke="#111" stroke-width="1.0" fill="none"/>
<path d="M92.91,205.38 V210.38" stroke="#3a3a3a" stroke-width="0.9500000000000001" fill="none"/>
<path d="M91.51,205.38 H94.31 M91.51,210.38 H94.31" stroke="#111" stroke-width="1.0" fill="none"/>
<path d="M97.70,206.75 V211.75" stroke="#3a3a3a" stroke-width="0.9500000000000001" fill="none"/>
<path d="M96.30,206.75 H99.10 M96.30,211.75 H99.10" stroke="#111" stroke-width="1.0" fill="none"/>
<path d="M102.50,208.12 V213.12" stroke="#3a3a3a" stroke-width="0.9500000000000001" fill="none"/>
<path d="M101.09,208.12 H103.90 M101.09,213.12 H103.90" stroke="#111" stroke-width="1.0" fill="none"/>
<path d="M107.29,211.38 V216.38" stroke="#3a3a3a" stroke-width="0.9500000000000001" fill="none"/>
<path d="M105.89,211.38 H108.69 M105.89,216.38 H108.69" stroke="#111" stroke-width="1.0" fill="none"/>
<path d="M112.08,213.25 V218.25" stroke="#3a3a3a" stroke-width="0.9500000000000001" fill="none"/>
<path d="M110.68,213.25 H113.48 M110.68,218.25 H113.48" stroke="#111" stroke-width="1.0" fill="none"/>
<path d="M116.87,209.38 V214.38" stroke="#3a3a3a" stroke-width="0.9500000000000001" fill="none"/>
<path d="M115.47,209.38 H118.27 M115.47,214.38 H118.27" stroke="#111" stroke-width="1.0" fill="none"/>
<path d="M121.67,206.75 V211.75" stroke="#3a3a3a" stroke-width="0.9500000000000001" fill="none"/>
<path d="M120.27,206.75 H123.07 M120.27,211.75 H123.07" stroke="#111" stroke-width="1.0" fill="none"/>
<path d="M126.46,202.75 V207.75" stroke="#3a3a3a" stroke-width="0.9500000000000001" fill="none"/>
<path d="M125.06,202.75 H127.86 M125.06,207.75 H127.86" stroke="#111" stroke-width="1.0" fill="none"/>
<path d="M131.25,205.50 V210.50" stroke="#3a3a3a" stroke-width="0.9500000000000001" fill="none"/>
<path d="M129.85,205.50 H132.65 M129.85,210.50 H132.65" stroke="#111" stroke-width="1.0" fill="none"/>
<path d="M136.05,205.50 V210.50" stroke="#3a3a3a" stroke-width="0.9500000000000001" fill="none"/>
<path d="M134.65,205.50 H137.45 M134.65,210.50 H137.45" stroke="#111" stroke-width="1.0" fill="none"/>
<path d="M140.84,205.50 V210.50" stroke="#3a3a3a" stroke-width="0.9500000000000001" fill="none"/>
<path d="M139.44,205.50 H142.24 M139.44,210.50 H142.24" stroke="#111" stroke-width="1.0" fill="none"/>
<path d="M145.63,185.75 V191.75" stroke="#3a3a3a" stroke-width="0.9500000000000001" fill="none"/>
<path d="M144.23,185.75 H147.03 M144.23,191.75 H147.03" stroke="#111" stroke-width="1.0" fill="none"/>
<path d="M150.43,189.00 V193.00" stroke="#3a3a3a" stroke-width="0.9500000000000001" fill="none"/>
<path d="M149.03,189.00 H151.83 M149.03,193.00 H151.83" stroke="#111" stroke-width="1.0" fill="none"/>
<path d="M155.22,196.12 V200.12" stroke="#3a3a3a" stroke-width="0.9500000000000001" fill="none"/>
<path d="M153.82,196.12 H156.62 M153.82,200.12 H156.62" stroke="#111" stroke-width="1.0" fill="none"/>
<path d="M160.01,191.00 V196.00" stroke="#3a3a3a" stroke-width="0.9500000000000001" fill="none"/>
<path d="M158.61,191.00 H161.41 M158.61,196.00 H161.41" stroke="#111" stroke-width="1.0" fill="none"/>
<path d="M164.80,195.50 V201.50" stroke="#3a3a3a" stroke-width="0.9500000000000001" fill="none"/>
<path d="M163.40,195.50 H166.20 M163.40,201.50 H166.20" stroke="#111" stroke-width="1.0" fill="none"/>
<path d="M169.60,205.75 V210.75" stroke="#3a3a3a" stroke-width="0.9500000000000001" fill="none"/>
<path d="M168.20,205.75 H171.00 M168.20,210.75 H171.00" stroke="#111" stroke-width="1.0" fill="none"/>
<path d="M174.39,205.75 V210.75" stroke="#3a3a3a" stroke-width="0.9500000000000001" fill="none"/>
<path d="M172.99,205.75 H175.79 M172.99,210.75 H175.79" stroke="#111" stroke-width="1.0" fill="none"/>
<path d="M40.19,215.50 V219.50" stroke="#3a3a3a" stroke-width="0.9500000000000001" fill="none"/>
<path d="M38.79,215.50 H41.59 M38.79,219.50 H41.59" stroke="#111" stroke-width="1.0" fill="none"/>
<path d="M44.98,215.50 V219.50" stroke="#3a3a3a" stroke-width="0.9500000000000001" fill="none"/>
<path d="M43.58,215.50 H46.38 M43.58,219.50 H46.38" stroke="#111" stroke-width="1.0" fill="none"/>
<path d="M49.77,190.00 V196.00" stroke="#3a3a3a" stroke-width="0.9500000000000001" fill="none"/>
<path d="M48.37,190.00 H51.17 M48.37,196.00 H51.17" stroke="#111" stroke-width="1.0" fill="none"/>
<path d="M54.56,179.25 V185.25" stroke="#3a3a3a" stroke-width="0.9500000000000001" fill="none"/>
<path d="M53.16,179.25 H55.96 M53.16,185.25 H55.96" stroke="#111" stroke-width="1.0" fill="none"/>
<path d="M59.36,176.80 V183.20" stroke="#3a3a3a" stroke-width="0.9500000000000001" fill="none"/>
<path d="M57.96,176.80 H60.76 M57.96,183.20 H60.76" stroke="#111" stroke-width="1.0" fill="none"/>
<path d="M64.15,160.55 V169.95" stroke="#3a3a3a" stroke-width="0.9500000000000001" fill="none"/>
<path d="M62.75,160.55 H65.55 M62.75,169.95 H65.55" stroke="#111" stroke-width="1.0" fill="none"/>
<path d="M68.94,152.00 V158.00" stroke="#3a3a3a" stroke-width="0.9500000000000001" fill="none"/>
<path d="M67.54,152.00 H70.34 M67.54,158.00 H70.34" stroke="#111" stroke-width="1.0" fill="none"/>
<path d="M73.74,150.30 V159.70" stroke="#3a3a3a" stroke-width="0.9500000000000001" fill="none"/>
<path d="M72.34,150.30 H75.14 M72.34,159.70 H75.14" stroke="#111" stroke-width="1.0" fill="none"/>
<path d="M78.53,152.75 V162.75" stroke="#3a3a3a" stroke-width="0.9500000000000001" fill="none"/>
<path d="M77.13,152.75 H79.93 M77.13,162.75 H79.93" stroke="#111" stroke-width="1.0" fill="none"/>
<path d="M83.32,150.10 V154.90" stroke="#3a3a3a" stroke-width="0.9500000000000001" fill="none"/>
<path d="M81.92,150.10 H84.72 M81.92,154.90 H84.72" stroke="#111" stroke-width="1.0" fill="none"/>
<path d="M88.12,156.18 V167.57" stroke="#3a3a3a" stroke-width="0.9500000000000001" fill="none"/>
<path d="M86.72,156.18 H89.52 M86.72,167.57 H89.52" stroke="#111" stroke-width="1.0" fill="none"/>
<path d="M92.91,162.12 V182.12" stroke="#3a3a3a" stroke-width="0.9500000000000001" fill="none"/>
<path d="M91.51,162.12 H94.31 M91.51,182.12 H94.31" stroke="#111" stroke-width="1.0" fill="none"/>
<path d="M97.70,171.22 V178.03" stroke="#3a3a3a" stroke-width="0.9500000000000001" fill="none"/>
<path d="M96.30,171.22 H99.10 M96.30,178.03 H99.10" stroke="#111" stroke-width="1.0" fill="none"/>
<path d="M102.50,168.10 V176.90" stroke="#3a3a3a" stroke-width="0.9500000000000001" fill="none"/>
<path d="M101.09,168.10 H103.90 M101.09,176.90 H103.90" stroke="#111" stroke-width="1.0" fill="none"/>
<path d="M107.29,172.55 V181.95" stroke="#3a3a3a" stroke-width="0.9500000000000001" fill="none"/>
<path d="M105.89,172.55 H108.69 M105.89,181.95 H108.69" stroke="#111" stroke-width="1.0" fill="none"/>
<path d="M112.08,167.85 V174.65" stroke="#3a3a3a" stroke-width="0.9500000000000001" fill="none"/>
<path d="M110.68,167.85 H113.48 M110.68,174.65 H113.48" stroke="#111" stroke-width="1.0" fill="none"/>
<path d="M116.87,160.85 V169.65" stroke="#3a3a3a" stroke-width="0.9500000000000001" fill="none"/>
<path d="M115.47,160.85 H118.27 M115.47,169.65 H118.27" stroke="#111" stroke-width="1.0" fill="none"/>
<path d="M121.67,160.85 V173.65" stroke="#3a3a3a" stroke-width="0.9500000000000001" fill="none"/>
<path d="M120.27,160.85 H123.07 M120.27,173.65 H123.07" stroke="#111" stroke-width="1.0" fill="none"/>
<path d="M126.46,158.50 V166.50" stroke="#3a3a3a" stroke-width="0.9500000000000001" fill="none"/>
<path d="M125.06,158.50 H127.86 M125.06,166.50 H127.86" stroke="#111" stroke-width="1.0" fill="none"/>
<path d="M131.25,162.50 V170.50" stroke="#3a3a3a" stroke-width="0.9500000000000001" fill="none"/>
<path d="M129.85,162.50 H132.65 M129.85,170.50 H132.65" stroke="#111" stroke-width="1.0" fill="none"/>
<path d="M136.05,157.47 V163.28" stroke="#3a3a3a" stroke-width="0.9500000000000001" fill="none"/>
<path d="M134.65,157.47 H137.45 M134.65,163.28 H137.45" stroke="#111" stroke-width="1.0" fill="none"/>
<path d="M140.84,157.30 V172.70" stroke="#3a3a3a" stroke-width="0.9500000000000001" fill="none"/>
<path d="M139.44,157.30 H142.24 M139.44,172.70 H142.24" stroke="#111" stroke-width="1.0" fill="none"/>
<path d="M145.63,155.00 V165.00" stroke="#3a3a3a" stroke-width="0.9500000000000001" fill="none"/>
<path d="M144.23,155.00 H147.03 M144.23,165.00 H147.03" stroke="#111" stroke-width="1.0" fill="none"/>
<path d="M150.43,153.50 V171.50" stroke="#3a3a3a" stroke-width="0.9500000000000001" fill="none"/>
<path d="M149.03,153.50 H151.83 M149.03,171.50 H151.83" stroke="#111" stroke-width="1.0" fill="none"/>
<path d="M155.22,152.00 V158.00" stroke="#3a3a3a" stroke-width="0.9500000000000001" fill="none"/>
<path d="M153.82,152.00 H156.62 M153.82,158.00 H156.62" stroke="#111" stroke-width="1.0" fill="none"/>
<path d="M160.01,152.15 V157.35" stroke="#3a3a3a" stroke-width="0.9500000000000001" fill="none"/>
<path d="M158.61,152.15 H161.41 M158.61,157.35 H161.41" stroke="#111" stroke-width="1.0" fill="none"/>
<path d="M164.80,153.50 V161.50" stroke="#3a3a3a" stroke-width="0.9500000000000001" fill="none"/>
<path d="M163.40,153.50 H166.20 M163.40,161.50 H166.20" stroke="#111" stroke-width="1.0" fill="none"/>
<path d="M169.60,160.85 V167.65" stroke="#3a3a3a" stroke-width="0.9500000000000001" fill="none"/>
<path d="M168.20,160.85 H171.00 M168.20,167.65 H171.00" stroke="#111" stroke-width="1.0" fill="none"/>
<path d="M174.39,164.62 V170.62" stroke="#3a3a3a" stroke-width="0.9500000000000001" fill="none"/>
<path d="M172.99,164.62 H175.79 M172.99,170.62 H175.79" stroke="#111" stroke-width="1.0" fill="none"/>
<path d="M35.39,221.88 L40.19,214.12 L44.98,209.12 L49.77,207.50 L54.56,207.50 L59.36,204.75 L64.15,204.75 L68.94,187.25 L73.74,191.75 L78.53,192.25 L83.32,189.75 L88.12,200.00 L92.91,208.12 L97.70,210.00 L102.50,211.25 L107.29,216.00 L112.08,218.00 L116.87,213.88 L121.67,210.00 L126.46,190.62 L131.25,179.62 L136.05,169.75 L140.84,169.75 L145.63,156.88 L150.43,152.25 L155.22,152.50 L160.01,154.75 L164.80,160.88 L169.60,174.25 L174.39,177.75" stroke="#5cb531" stroke-width="1.15" fill="none" stroke-linejoin="round"/>
<path d="M35.39,223.75 L40.19,216.25 L44.98,209.25 L49.77,207.50 L54.56,207.50 L59.36,207.50 L64.15,205.50 L68.94,187.25 L73.74,191.50 L78.53,195.12 L83.32,192.50 L88.12,201.25 L92.91,207.88 L97.70,209.25 L102.50,210.62 L107.29,213.88 L112.08,215.75 L116.87,211.88 L121.67,209.25 L126.46,205.25 L131.25,208.00 L136.05,208.00 L140.84,208.00 L145.63,188.75 L150.43,191.00 L155.22,198.12 L160.01,193.50 L164.80,198.50 L169.60,208.25 L174.39,208.25" stroke="#1d408c" stroke-width="1.15" fill="none" stroke-linejoin="round"/>
<path d="M35.39,225.00 L40.19,217.50 L44.98,217.50 L49.77,193.00 L54.56,182.25 L59.36,180.00 L64.15,165.25 L68.94,155.00 L73.74,155.00 L78.53,157.75 L83.32,152.50 L88.12,161.88 L92.91,172.12 L97.70,174.62 L102.50,172.50 L107.29,177.25 L112.08,171.25 L116.87,165.25 L121.67,167.25 L126.46,162.50 L131.25,166.50 L136.05,160.38 L140.84,165.00 L145.63,160.00 L150.43,162.50 L155.22,155.00 L160.01,154.75 L164.80,157.50 L169.60,164.25 L174.39,167.62" stroke="#c20f30" stroke-width="1.15" fill="none" stroke-linejoin="round"/>
<rect x="34.49" y="220.97" width="1.80" height="1.80" fill="#5cb531"/>
<rect x="39.29" y="213.22" width="1.80" height="1.80" fill="#5cb531"/>
<rect x="44.08" y="208.22" width="1.80" height="1.80" fill="#5cb531"/>
<rect x="48.87" y="206.60" width="1.80" height="1.80" fill="#5cb531"/>
<rect x="53.66" y="206.60" width="1.80" height="1.80" fill="#5cb531"/>
<rect x="58.46" y="203.85" width="1.80" height="1.80" fill="#5cb531"/>
<rect x="63.25" y="203.85" width="1.80" height="1.80" fill="#5cb531"/>
<rect x="68.04" y="186.35" width="1.80" height="1.80" fill="#5cb531"/>
<rect x="72.84" y="190.85" width="1.80" height="1.80" fill="#5cb531"/>
<rect x="77.63" y="191.35" width="1.80" height="1.80" fill="#5cb531"/>
<rect x="82.42" y="188.85" width="1.80" height="1.80" fill="#5cb531"/>
<rect x="87.22" y="199.10" width="1.80" height="1.80" fill="#5cb531"/>
<rect x="92.01" y="207.22" width="1.80" height="1.80" fill="#5cb531"/>
<rect x="96.80" y="209.10" width="1.80" height="1.80" fill="#5cb531"/>
<rect x="101.59" y="210.35" width="1.80" height="1.80" fill="#5cb531"/>
<rect x="106.39" y="215.10" width="1.80" height="1.80" fill="#5cb531"/>
<rect x="111.18" y="217.10" width="1.80" height="1.80" fill="#5cb531"/>
<rect x="115.97" y="212.97" width="1.80" height="1.80" fill="#5cb531"/>
<rect x="120.77" y="209.10" width="1.80" height="1.80" fill="#5cb531"/>
<rect x="125.56" y="189.72" width="1.80" height="1.80" fill="#5cb531"/>
<rect x="130.35" y="178.72" width="1.80" height="1.80" fill="#5cb531"/>
<rect x="135.15" y="168.85" width="1.80" height="1.80" fill="#5cb531"/>
<rect x="139.94" y="168.85" width="1.80" height="1.80" fill="#5cb531"/>
<rect x="144.73" y="155.97" width="1.80" height="1.80" fill="#5cb531"/>
<rect x="149.53" y="151.35" width="1.80" height="1.80" fill="#5cb531"/>
<rect x="154.32" y="151.60" width="1.80" height="1.80" fill="#5cb531"/>
<rect x="159.11" y="153.85" width="1.80" height="1.80" fill="#5cb531"/>
<rect x="163.90" y="159.97" width="1.80" height="1.80" fill="#5cb531"/>
<rect x="168.70" y="173.35" width="1.80" height="1.80" fill="#5cb531"/>
<rect x="173.49" y="176.85" width="1.80" height="1.80" fill="#5cb531"/>
<path d="M35.39,222.55 L36.49,224.55 L34.29,224.55 Z" fill="#1d408c"/>
<path d="M40.19,215.05 L41.29,217.05 L39.09,217.05 Z" fill="#1d408c"/>
<path d="M44.98,208.05 L46.08,210.05 L43.88,210.05 Z" fill="#1d408c"/>
<path d="M49.77,206.30 L50.87,208.30 L48.67,208.30 Z" fill="#1d408c"/>
<path d="M54.56,206.30 L55.66,208.30 L53.46,208.30 Z" fill="#1d408c"/>
<path d="M59.36,206.30 L60.46,208.30 L58.26,208.30 Z" fill="#1d408c"/>
<path d="M64.15,204.30 L65.25,206.30 L63.05,206.30 Z" fill="#1d408c"/>
<path d="M68.94,186.05 L70.04,188.05 L67.84,188.05 Z" fill="#1d408c"/>
<path d="M73.74,190.30 L74.84,192.30 L72.64,192.30 Z" fill="#1d408c"/>
<path d="M78.53,193.93 L79.63,195.93 L77.43,195.93 Z" fill="#1d408c"/>
<path d="M83.32,191.30 L84.42,193.30 L82.22,193.30 Z" fill="#1d408c"/>
<path d="M88.12,200.05 L89.22,202.05 L87.02,202.05 Z" fill="#1d408c"/>
<path d="M92.91,206.68 L94.01,208.68 L91.81,208.68 Z" fill="#1d408c"/>
<path d="M97.70,208.05 L98.80,210.05 L96.60,210.05 Z" fill="#1d408c"/>
<path d="M102.50,209.43 L103.59,211.43 L101.40,211.43 Z" fill="#1d408c"/>
<path d="M107.29,212.68 L108.39,214.68 L106.19,214.68 Z" fill="#1d408c"/>
<path d="M112.08,214.55 L113.18,216.55 L110.98,216.55 Z" fill="#1d408c"/>
<path d="M116.87,210.68 L117.97,212.68 L115.77,212.68 Z" fill="#1d408c"/>
<path d="M121.67,208.05 L122.77,210.05 L120.57,210.05 Z" fill="#1d408c"/>
<path d="M126.46,204.05 L127.56,206.05 L125.36,206.05 Z" fill="#1d408c"/>
<path d="M131.25,206.80 L132.35,208.80 L130.15,208.80 Z" fill="#1d408c"/>
<path d="M136.05,206.80 L137.15,208.80 L134.95,208.80 Z" fill="#1d408c"/>
<path d="M140.84,206.80 L141.94,208.80 L139.74,208.80 Z" fill="#1d408c"/>
<path d="M145.63,187.55 L146.73,189.55 L144.53,189.55 Z" fill="#1d408c"/>
<path d="M150.43,189.80 L151.53,191.80 L149.33,191.80 Z" fill="#1d408c"/>
<path d="M155.22,196.93 L156.32,198.93 L154.12,198.93 Z" fill="#1d408c"/>
<path d="M160.01,192.30 L161.11,194.30 L158.91,194.30 Z" fill="#1d408c"/>
<path d="M164.80,197.30 L165.90,199.30 L163.70,199.30 Z" fill="#1d408c"/>
<path d="M169.60,207.05 L170.70,209.05 L168.50,209.05 Z" fill="#1d408c"/>
<path d="M174.39,207.05 L175.49,209.05 L173.29,209.05 Z" fill="#1d408c"/>
<circle cx="35.39" cy="225.00" r="0.90" fill="#c20f30"/>
<circle cx="40.19" cy="217.50" r="0.90" fill="#c20f30"/>
<circle cx="44.98" cy="217.50" r="0.90" fill="#c20f30"/>
<circle cx="49.77" cy="193.00" r="0.90" fill="#c20f30"/>
<circle cx="54.56" cy="182.25" r="0.90" fill="#c20f30"/>
<circle cx="59.36" cy="180.00" r="0.90" fill="#c20f30"/>
<circle cx="64.15" cy="165.25" r="0.90" fill="#c20f30"/>
<circle cx="68.94" cy="155.00" r="0.90" fill="#c20f30"/>
<circle cx="73.74" cy="155.00" r="0.90" fill="#c20f30"/>
<circle cx="78.53" cy="157.75" r="0.90" fill="#c20f30"/>
<circle cx="83.32" cy="152.50" r="0.90" fill="#c20f30"/>
<circle cx="88.12" cy="161.88" r="0.90" fill="#c20f30"/>
<circle cx="92.91" cy="172.12" r="0.90" fill="#c20f30"/>
<circle cx="97.70" cy="174.62" r="0.90" fill="#c20f30"/>
<circle cx="102.50" cy="172.50" r="0.90" fill="#c20f30"/>
<circle cx="107.29" cy="177.25" r="0.90" fill="#c20f30"/>
<circle cx="112.08" cy="171.25" r="0.90" fill="#c20f30"/>
<circle cx="116.87" cy="165.25" r="0.90" fill="#c20f30"/>
<circle cx="121.67" cy="167.25" r="0.90" fill="#c20f30"/>
<circle cx="126.46" cy="162.50" r="0.90" fill="#c20f30"/>
<circle cx="131.25" cy="166.50" r="0.90" fill="#c20f30"/>
<circle cx="136.05" cy="160.38" r="0.90" fill="#c20f30"/>
<circle cx="140.84" cy="165.00" r="0.90" fill="#c20f30"/>
<circle cx="145.63" cy="160.00" r="0.90" fill="#c20f30"/>
<circle cx="150.43" cy="162.50" r="0.90" fill="#c20f30"/>
<circle cx="155.22" cy="155.00" r="0.90" fill="#c20f30"/>
<circle cx="160.01" cy="154.75" r="0.90" fill="#c20f30"/>
<circle cx="164.80" cy="157.50" r="0.90" fill="#c20f30"/>
<circle cx="169.60" cy="164.25" r="0.90" fill="#c20f30"/>
<circle cx="174.39" cy="167.62" r="0.90" fill="#c20f30"/>
<text x="108.80" y="206.90" font-size="7.70" textLength="6.80" lengthAdjust="spacingAndGlyphs">ns</text>
<circle cx="177.60" cy="172.50" r="0.8" fill="#000"/>
<circle cx="180.50" cy="172.50" r="0.8" fill="#000"/>
<circle cx="183.30" cy="172.50" r="0.8" fill="#000"/>
<circle cx="186.20" cy="172.50" r="0.8" fill="#000"/>
<path d="M179.1,176.9 H184.4 V207.2 H179.1" stroke="#000" stroke-width="0.9" fill="none"/>
<text x="231.70" y="109.90" font-size="8.58" textLength="15.80" lengthAdjust="spacingAndGlyphs">PBS</text>
<text x="264.40" y="109.90" font-size="8.58" textLength="55.80" lengthAdjust="spacingAndGlyphs">Syngeneic MSC</text>
<text x="208.50" y="168.40" font-size="8.58" textLength="55.40" lengthAdjust="spacingAndGlyphs">Allogeneic MSC</text>
<text x="211.90" y="177.20" font-size="8.58" textLength="48.10" lengthAdjust="spacingAndGlyphs">(1st exposure)</text>
<text x="267.80" y="168.40" font-size="8.58" textLength="55.00" lengthAdjust="spacingAndGlyphs">Allogeneic MSC</text>
<text x="270.10" y="177.20" font-size="8.58" textLength="49.90" lengthAdjust="spacingAndGlyphs">(2nd exposure)</text>
<defs>
<filter id="nz" x="0" y="0" width="100%" height="100%">
<feTurbulence type="fractalNoise" baseFrequency="0.9" numOctaves="2" seed="3" result="t"/>
<feColorMatrix type="matrix" values="0 0 0 0 0  0 0 0 0 0  0 0 0 0 0  0 0 0 -1.6 1.05"/>
</filter>
<filter id="desat" color-interpolation-filters="sRGB"><feColorMatrix type="saturate" values="0.72"/></filter>
<filter id="desat2" color-interpolation-filters="sRGB"><feColorMatrix type="saturate" values="0.85"/></filter>
</defs>
<g>
<clipPath id="c1"><rect x="212" y="115" width="52.2" height="42.6"/></clipPath>
<g clip-path="url(#c1)">
<rect x="212" y="115" width="52.2" height="42.6" fill="#b2ddb2"/>
<path d="M210,113 L210,140 C215,145 222,149 232,151.8 C242,154 253,154 266,148.5 L266,113 Z" fill="#a58491"/>
<path d="M215,113 C214.8,121 214.8,129 217.2,135 C219.8,139.6 224,142 231,143.4 C240,144.8 252,144.8 266,141.5 L266,113 Z" fill="#b3d3b1"/>
<path d="M226,113 C224.5,120 224.5,128 226.5,133.5 C229.5,139 235,141.2 244,141.2 C252,141 259,138 266,132 L266,113 Z" fill="#9a7d90"/>
<path d="M229.5,113 C227.8,120 227.6,128 229.6,132.5 C232.5,137 237,138.5 244,138.4 C251,138.2 257,135.5 262,131 C265,126 266,118 266,113 Z" fill="#686a80"/>
<path d="M233,113 C231.5,120 231.5,127 233.5,131 C236,134.5 240,135.5 245,135.2 C251,134.8 256,132.5 259.5,128.5 C262,124 263,118 263,113 Z" fill="#7c8189"/>
<path d="M245,127.5 C248,123.5 251,120 254.5,116" stroke="#b8e6b8" stroke-width="2.2" fill="none" stroke-linecap="round"/>
</g></g>
<g>
<clipPath id="c2"><rect x="267.9" y="114.6" width="50.9" height="43"/></clipPath>
<g clip-path="url(#c2)" filter="url(#desat2)">
<rect x="267.9" y="114.6" width="50.9" height="43" fill="#b8dcb8"/>
<ellipse cx="289" cy="132" rx="32" ry="30" fill="#c391a2"/>
<path d="M264,112 L296.8,112 C304,116 310.7,125 311.2,135 C311.2,145.5 300.5,153.6 287.5,153.6 C278,153.6 270,149 264,142 Z" fill="#bde6bf"/>
<path d="M264,112 L295.8,112 C302.5,116.5 308.6,125 308.9,135 C308.9,144.5 299,151.4 287.5,151.4 C278.5,151.4 271,147.5 264,140.5 Z" fill="#a295c4"/>
<path d="M298.5,133.9 L308.1,134.3 M298.2,135.6 L307.5,137.8 M297.5,137.2 L306.1,141.1 M296.5,138.6 L304.0,144.0 M295.2,139.8 L301.2,146.5 M293.6,140.7 L298.0,148.4 M291.8,141.3 L294.4,149.7 M290.0,141.6 L290.5,150.2 M288.1,141.5 L286.6,150.0 M286.3,141.1 L282.9,149.1 M284.6,140.3 L279.4,147.6 M283.2,139.2 L276.4,145.4 M282.0,137.9 L273.9,142.7 M281.1,136.4 L272.2,139.5 M280.6,134.8 L271.1,136.2 M280.5,133.1 L270.9,132.7 M280.8,131.4 L271.5,129.2 M281.5,129.8 L272.9,125.9 M282.5,128.4 L275.0,123.0 M283.8,127.2 L277.8,120.5 M285.4,126.3 L281.0,118.6 M287.2,125.7 L284.6,117.3 M289.0,125.4 L288.5,116.8 M290.9,125.5 L292.4,117.0 M292.7,125.9 L296.1,117.9 M294.4,126.7 L299.6,119.4 M295.8,127.8 L302.6,121.6 M297.0,129.1 L305.1,124.3 M297.9,130.6 L306.8,127.5 M298.4,132.2 L307.9,130.8" stroke="#6c589e" stroke-width="1.7" fill="none" stroke-linecap="round"/>
<path d="M272.5,114.6 C278,122 284,128 291,134 M291,134 L293.5,148 M291,134 L303,138.5 M291,134 L300,127" stroke="#d8e8da" stroke-width="1.6" fill="none"/>
</g></g>
<g>
<clipPath id="c3"><rect x="208.9" y="182.9" width="53.8" height="47.4"/></clipPath>
<g clip-path="url(#c3)">
<rect x="208.9" y="182.9" width="53.8" height="47.4" fill="#acd8ae"/>
<path d="M206,196 C208,206 214,216 222,221.5 C228,224.5 236,224.5 244,222.5 C252,220 259,212 265,196 L265,216 C261,222 253,228 244,229.2 C236,230.2 225,229.8 216,226 C212,223.5 208,219 206,213 Z" fill="#a08a9c"/>
<path d="M206,213 C208,219 212,223.5 216,226 C225,229.8 236,230.2 244,229.2 C253,228 261,222 265,216 L265,233 L206,233 Z" fill="#a2b8a8"/>
<path d="M218.6,182.9 L258.6,182.9 C258.3,192 256,200 251,207 C246,213.5 240,218.5 233,220.6 C229,221.5 224.5,220.5 221,216.5 C218,212.5 216.8,207 216.9,201 C217,194 217.8,188 218.6,182.9 Z" fill="#5a5a8c"/>
<path d="M219.5,187 L225.0,187.5 M219.5,191.5 L225.0,192.0 M219.5,196 L225.0,196.5 M219.5,200.5 L225.0,201.0 M219.5,205 L225.0,205.5 M220.8,209.5 L225.0,210.0 M222,213.5 L226.5,211 M225.5,217 L228.5,213.5 M229.5,219.3 L230.5,215.5 M234.5,219.3 L233.5,215.5 M239.5,217.3 L237.5,213.5 M244,214 L241,211 M248,210 L244.5,208 M251,205.5 L247.5,204.5 M253.5,200.5 L249.5,200 M255.5,195.5 L251.5,195.5 M257,190.5 L253,191 M257.5,185.5 L253.5,186.5" stroke="#cfd6dc" stroke-width="1.2" fill="none" opacity="0.9"/>
<path d="M231,182.9 L237.5,182.9 C236,192 233.5,203 229.5,216 C229.5,204 230.5,193 231,182.9 Z" fill="#aad4ac"/>
</g></g>
<g>
<clipPath id="c4"><rect x="267.9" y="182.9" width="52.7" height="47.4"/></clipPath>
<g clip-path="url(#c4)" filter="url(#desat)">
<rect x="267.9" y="182.9" width="52.7" height="47.4" fill="#b3c8d8"/>
<ellipse cx="294" cy="186" rx="32.7" ry="48.7" fill="#bb8cc4"/>
<ellipse cx="295" cy="190" rx="25.5" ry="28.5" fill="none" stroke="#e6d8ec" stroke-width="1.3"/>
<ellipse cx="295" cy="190" rx="24.8" ry="27.8" fill="#cba5d0"/>
<path d="M285.5,182.9 C283,188 280.5,194 281,198.5 C281.5,201.5 283,203.5 285,203.2 C286.5,200 288,197 290,194.5 C292.5,191.5 295.5,189 299,187.5 L299,182.9 Z" fill="#aac9d8"/>
<path d="M285,203.2 C288,203.6 293,203.5 297,202 C300,200.5 301,197.5 300.5,194" stroke="#ece2ef" stroke-width="1" fill="none"/>
</g></g>
<rect x="212" y="115" width="52.2" height="42.6" filter="url(#nz)" opacity="0.1"/>
<rect x="267.9" y="114.6" width="50.9" height="43" filter="url(#nz)" opacity="0.1"/>
<rect x="208.9" y="182.9" width="53.8" height="47.4" filter="url(#nz)" opacity="0.1"/>
<rect x="267.9" y="182.9" width="52.7" height="47.4" filter="url(#nz)" opacity="0.08"/>
<line x1="370.80" y1="179.00" x2="370.80" y2="264.80" stroke="#222" stroke-width="1.2"/>
<line x1="370.20" y1="264.20" x2="515.50" y2="264.20" stroke="#222" stroke-width="1.2"/>
<line x1="368.00" y1="181.70" x2="370.80" y2="181.70" stroke="#222" stroke-width="1.0"/>
<line x1="368.00" y1="198.20" x2="370.80" y2="198.20" stroke="#222" stroke-width="1.0"/>
<line x1="368.00" y1="214.70" x2="370.80" y2="214.70" stroke="#222" stroke-width="1.0"/>
<line x1="368.00" y1="231.20" x2="370.80" y2="231.20" stroke="#222" stroke-width="1.0"/>
<line x1="368.00" y1="247.70" x2="370.80" y2="247.70" stroke="#222" stroke-width="1.0"/>
<line x1="368.00" y1="264.20" x2="370.80" y2="264.20" stroke="#222" stroke-width="1.0"/>
<text x="364.40" y="184.30" font-size="7.60" text-anchor="end" textLength="8.45" lengthAdjust="spacingAndGlyphs">10</text>
<text x="364.40" y="200.80" font-size="7.60" text-anchor="end" textLength="4.23" lengthAdjust="spacingAndGlyphs">8</text>
<text x="364.40" y="233.80" font-size="7.60" text-anchor="end" textLength="4.23" lengthAdjust="spacingAndGlyphs">4</text>
<text x="364.40" y="266.80" font-size="7.60" text-anchor="end" textLength="4.23" lengthAdjust="spacingAndGlyphs">0</text>
<line x1="394.50" y1="264.20" x2="394.50" y2="267.30" stroke="#222" stroke-width="1.0"/>
<line x1="429.10" y1="264.20" x2="429.10" y2="267.30" stroke="#222" stroke-width="1.0"/>
<line x1="462.80" y1="264.20" x2="462.80" y2="267.30" stroke="#222" stroke-width="1.0"/>
<line x1="496.80" y1="264.20" x2="496.80" y2="267.30" stroke="#222" stroke-width="1.0"/>
<text transform="translate(350.7,221.6) rotate(-90)" font-size="9.2" text-anchor="middle" textLength="43.5" lengthAdjust="spacingAndGlyphs" stroke="#000" stroke-width="0.12">Histology score</text>
<circle cx="390.40" cy="198.10" r="1.30" fill="#c20f30"/>
<circle cx="398.70" cy="198.10" r="1.30" fill="#c20f30"/>
<circle cx="386.30" cy="206.40" r="1.30" fill="#c20f30"/>
<circle cx="394.70" cy="206.40" r="1.30" fill="#c20f30"/>
<circle cx="403.00" cy="206.40" r="1.30" fill="#c20f30"/>
<line x1="384.90" y1="203.50" x2="404.80" y2="203.50" stroke="#000" stroke-width="1.2"/>
<path d="M394.85,201.50 V205.50" stroke="#111" stroke-width="1.0" fill="none"/>
<path d="M389.10,201.50 H399.90 M389.10,205.50 H399.90" stroke="#222" stroke-width="0.9" fill="none"/>
<rect x="423.15" y="221.95" width="2.50" height="2.50" fill="#1a3c82"/>
<rect x="431.35" y="221.95" width="2.50" height="2.50" fill="#1a3c82"/>
<rect x="419.05" y="238.05" width="2.50" height="2.50" fill="#1a3c82"/>
<rect x="426.95" y="238.05" width="2.50" height="2.50" fill="#1a3c82"/>
<rect x="435.45" y="238.05" width="2.50" height="2.50" fill="#1a3c82"/>
<line x1="418.70" y1="232.50" x2="438.40" y2="232.50" stroke="#000" stroke-width="1.2"/>
<path d="M428.55,228.50 V236.80" stroke="#111" stroke-width="1.0" fill="none"/>
<path d="M423.10,228.50 H434.00 M423.10,236.80 H434.00" stroke="#222" stroke-width="0.9" fill="none"/>
<path d="M462.40,221.98 L463.88,224.68 L460.91,224.68 Z" fill="#5cb531"/>
<path d="M462.40,229.88 L463.88,232.58 L460.91,232.58 Z" fill="#5cb531"/>
<path d="M454.30,238.48 L455.79,241.18 L452.81,241.18 Z" fill="#5cb531"/>
<path d="M462.40,238.48 L463.88,241.18 L460.91,241.18 Z" fill="#5cb531"/>
<path d="M470.50,238.48 L471.99,241.18 L469.01,241.18 Z" fill="#5cb531"/>
<line x1="452.30" y1="234.50" x2="472.60" y2="234.50" stroke="#000" stroke-width="1.2"/>
<path d="M462.45,231.50 V238.00" stroke="#111" stroke-width="1.0" fill="none"/>
<path d="M457.10,231.50 H468.00 M457.10,238.00 H468.00" stroke="#222" stroke-width="0.9" fill="none"/>
<path d="M487.90,196.30 L489.70,199.50 L486.10,199.50 Z" fill="none" stroke="#5e1f7c" stroke-width="1.0"/>
<path d="M496.40,196.30 L498.20,199.50 L494.60,199.50 Z" fill="none" stroke="#5e1f7c" stroke-width="1.0"/>
<path d="M504.70,196.30 L506.50,199.50 L502.90,199.50 Z" fill="none" stroke="#5e1f7c" stroke-width="1.0"/>
<path d="M492.40,204.30 L494.20,207.50 L490.60,207.50 Z" fill="none" stroke="#5e1f7c" stroke-width="1.0"/>
<path d="M500.40,204.30 L502.20,207.50 L498.60,207.50 Z" fill="none" stroke="#5e1f7c" stroke-width="1.0"/>
<line x1="486.30" y1="201.50" x2="506.00" y2="201.50" stroke="#000" stroke-width="1.2"/>
<path d="M496.15,199.30 V203.40" stroke="#111" stroke-width="1.0" fill="none"/>
<path d="M491.50,199.30 H501.50 M491.50,203.40 H501.50" stroke="#222" stroke-width="0.9" fill="none"/>
<path d="M429.6,205.1 V201.5 H480.3" stroke="#000" stroke-width="1.1" fill="none"/>
<circle cx="453.30" cy="197.40" r="0.9" fill="#000"/>
<circle cx="456.30" cy="197.40" r="0.9" fill="#000"/>
<path d="M428.3,218.5 V215.2 H463.1 V218.5" stroke="#000" stroke-width="1.0" fill="none"/>
<text x="441.70" y="213.60" font-size="7.70" textLength="7.20" lengthAdjust="spacingAndGlyphs">ns</text>
<text transform="translate(399.40,276.20) rotate(-45)" font-size="7.7" text-anchor="end"><tspan x="0.00" y="0.00">PBS</tspan></text>
<text transform="translate(433.60,275.80) rotate(-45)" font-size="7.6" text-anchor="end"><tspan x="0.00" y="0.00">Syngeneic</tspan><tspan x="1.00" y="7.00">MSC</tspan></text>
<text transform="translate(466.60,275.80) rotate(-45)" font-size="7.6" text-anchor="end"><tspan x="0.00" y="0.00">Allogeneic</tspan><tspan x="0.60" y="7.20">MSC (1st exposure)</tspan></text>
<text transform="translate(500.90,275.60) rotate(-45)" font-size="7.6" text-anchor="end"><tspan x="0.00" y="0.00">Allogeneic</tspan><tspan x="0.60" y="7.40">MSC (2nd exposure)</tspan></text>
<rect x="0.5" y="0.5" width="519" height="335" fill="none" stroke="#000" stroke-width="1"/>
</svg>
</body></html>
